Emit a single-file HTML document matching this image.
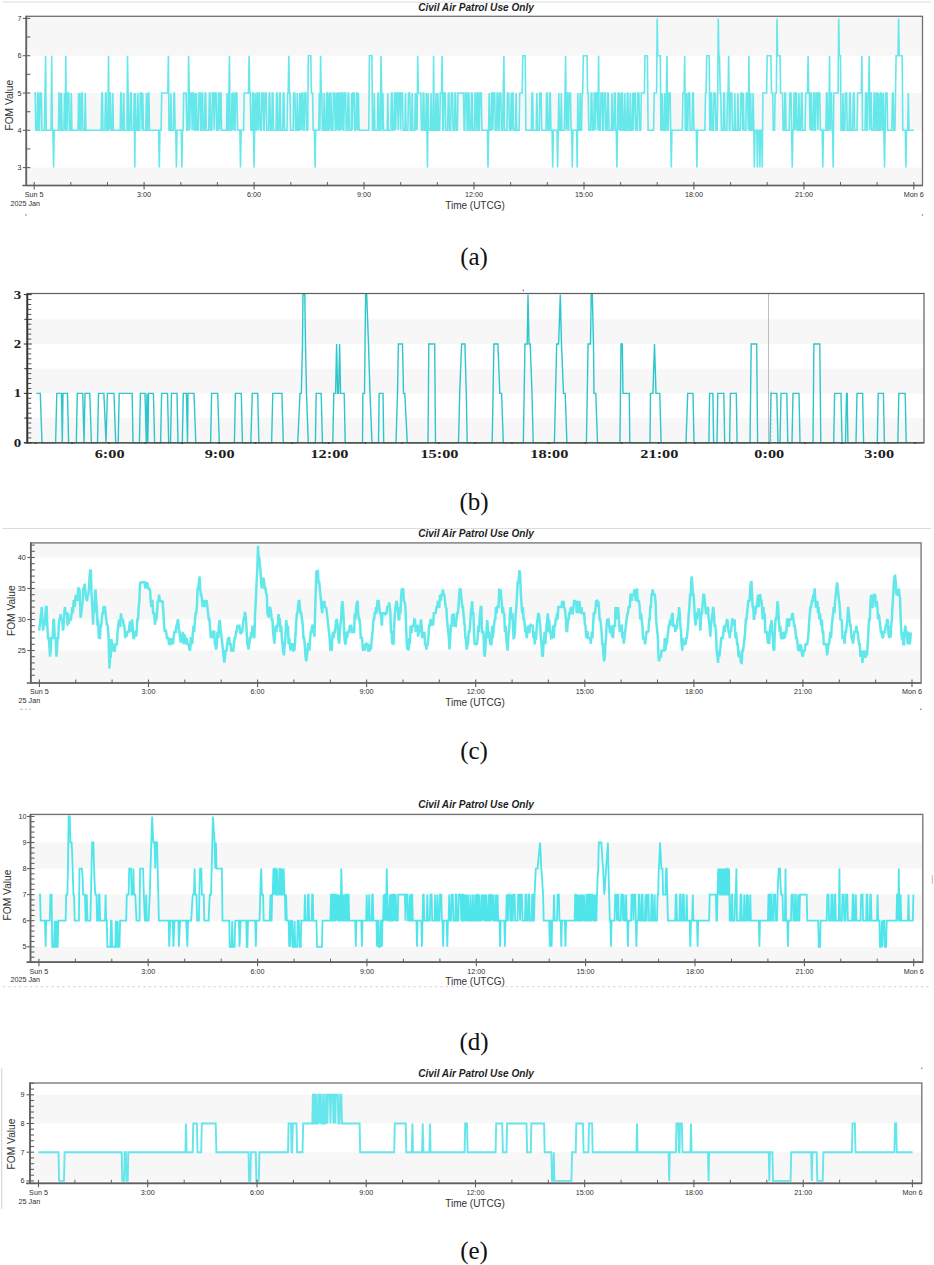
<!DOCTYPE html>
<html><head><meta charset="utf-8"><style>
html,body{margin:0;padding:0;background:#fff;}
svg{display:block;}
</style></head><body>
<svg width="934" height="1265" viewBox="0 0 934 1265">
<rect x="0" y="0" width="934" height="1265" fill="#ffffff"/>
<line x1="3" y1="2.2" x2="931" y2="2.2" stroke="#e2e2e2" stroke-width="1.2" />
<rect x="26.3" y="16.3" width="896.2" height="39.4" fill="#f7f7f8"/>
<rect x="26.3" y="93" width="896.2" height="37.3" fill="#f7f7f8"/>
<rect x="26.3" y="167.6" width="896.2" height="17.9" fill="#f7f7f8"/>
<polyline points="34,93 35.2,93 35.8,130.3 37.1,130.3 37.7,93 38.3,93 38.9,130.3 39.5,130.3 40.1,93 41.3,93 41.9,130.3 44.4,130.3 45,93 45.6,55.7 46.2,130.3 51.1,130.3 51.7,55.7 52.3,130.3 52.9,130.3 53.6,167.6 54.2,130.3 58.4,130.3 59.1,93 59.7,93 60.3,130.3 60.9,130.3 61.5,93 62.1,130.3 63.9,130.3 64.5,93 65.2,130.3 65.8,55.7 66.4,130.3 67,130.3 67.6,93 68.8,93 69.4,130.3 70.7,130.3 71.3,93 71.9,130.3 78,130.3 78.6,93 79.2,130.3 79.8,93 80.4,130.3 81,130.3 81.7,93 82.3,93 82.9,130.3 84.7,130.3 85.3,93 85.9,130.3 101.2,130.3 101.8,93 102.4,93 103,130.3 104.9,130.3 105.5,93 106.1,93 106.7,130.3 107.9,130.3 108.5,55.7 109.2,130.3 109.8,93 110.4,93 111,130.3 112.2,130.3 112.8,93 113.4,130.3 120.2,130.3 120.8,93 121.4,93 122,130.3 123.2,130.3 123.8,93 124.4,130.3 126.9,130.3 127.5,55.7 128.1,93 128.7,130.3 129.9,130.3 130.5,93 131.1,93 131.8,130.3 133.6,130.3 134.2,93 134.8,167.6 135.4,93 136,130.3 137.3,130.3 137.9,93 138.5,130.3 139.7,130.3 140.3,93 141.5,93 142.1,130.3 142.8,93 143.4,130.3 145.8,130.3 146.4,93 147,130.3 147.6,130.3 148.3,93 148.9,93 149.5,130.3 158.6,130.3 159.3,167.6 159.9,130.3 161.1,130.3 161.7,93 167.8,93 168.4,55.7 169,130.3 170.3,130.3 170.9,93 171.5,130.3 173.3,130.3 173.9,93 174.5,93 175.1,130.3 175.8,130.3 176.4,167.6 177,130.3 181.3,130.3 181.9,167.6 182.5,130.3 183.1,130.3 183.7,93 186.1,93 186.8,130.3 188,130.3 188.6,55.7 189.2,93 189.8,130.3 190.4,93 191.6,93 192.2,130.3 192.9,93 193.5,93 194.1,130.3 194.7,130.3 195.3,93 195.9,130.3 196.5,93 197.1,130.3 198.4,130.3 199,93 200.2,93 200.8,130.3 201.4,130.3 202,93 202.6,93 203.2,130.3 204.5,130.3 205.1,93 205.7,93 206.3,130.3 208.7,130.3 209.4,93 210,93 210.6,130.3 211.8,130.3 212.4,93 213.6,93 214.2,130.3 214.9,93 216.1,93 216.7,130.3 217.9,130.3 218.5,93 219.1,93 219.7,130.3 220.4,93 221,93 221.6,130.3 226.5,130.3 227.1,93 227.7,130.3 228.3,130.3 228.9,93 229.5,55.7 230.1,130.3 231.4,130.3 232,93 232.6,130.3 233.2,93 233.8,93 234.4,130.3 235,130.3 235.6,93 236.9,93 237.5,130.3 239.9,130.3 240.5,167.6 241.1,130.3 243.6,130.3 244.2,93 248.5,93 249.1,55.7 249.7,93 250.3,93 250.9,130.3 252.1,130.3 252.7,93 253.3,93 254,167.6 254.6,130.3 255.2,93 255.8,130.3 256.4,130.3 257,93 257.6,93 258.2,130.3 258.8,93 259.5,93 260.1,130.3 261.3,130.3 261.9,93 263.1,93 263.7,130.3 264.3,130.3 265,93 266.2,93 266.8,130.3 268.6,130.3 269.2,93 269.8,93 270.5,130.3 271.7,130.3 272.3,93 272.9,93 273.5,130.3 276,130.3 276.6,93 277.2,93 277.8,130.3 279,130.3 279.6,93 280.2,93 280.8,130.3 282.7,130.3 283.3,93 283.9,93 284.5,130.3 287,130.3 287.6,93 288.2,93 288.8,55.7 289.4,93 290,93 290.6,130.3 293.1,130.3 293.7,93 294.9,93 295.5,130.3 296.7,130.3 297.3,93 298,130.3 299.2,130.3 299.8,93 300.4,130.3 301,93 301.6,130.3 302.2,93 302.8,93 303.5,130.3 304.1,130.3 304.7,93 305.9,93 306.5,130.3 307.7,130.3 308.3,55.7 310.8,55.7 311.4,93 312.6,93 313.2,130.3 314.4,130.3 315.1,167.6 315.7,130.3 318.7,130.3 319.3,93 319.9,130.3 320.6,55.7 321.2,93 321.8,93 322.4,130.3 323.6,130.3 324.2,93 324.8,130.3 326.1,130.3 326.7,93 327.3,93 327.9,130.3 328.5,130.3 329.1,93 329.7,130.3 330.3,93 330.9,93 331.6,130.3 332.8,130.3 333.4,93 334.6,93 335.2,130.3 335.8,130.3 336.4,93 337.1,130.3 337.7,93 338.3,93 338.9,130.3 339.5,130.3 340.1,93 340.7,93 341.3,130.3 341.9,93 342.6,93 343.2,130.3 343.8,130.3 344.4,93 345.6,93 346.2,130.3 347.4,130.3 348.1,93 348.7,93 349.3,130.3 351.1,130.3 351.7,93 352.3,130.3 352.9,93 354.2,93 354.8,130.3 356,130.3 356.6,93 357.2,93 357.8,130.3 358.4,93 359.1,130.3 368.8,130.3 369.4,55.7 371.9,55.7 372.5,130.3 373.7,130.3 374.3,93 374.9,130.3 377.4,130.3 378,93 378.6,93 379.2,130.3 380.4,130.3 381,55.7 381.7,93 382.3,130.3 382.9,93 383.5,130.3 387.2,130.3 387.8,93 388.4,130.3 390.8,130.3 391.4,93 392,93 392.7,130.3 393.9,130.3 394.5,93 395.1,93 395.7,130.3 396.3,93 397.5,93 398.2,130.3 398.8,93 400,93 400.6,130.3 401.2,93 402.4,93 403,130.3 404.9,130.3 405.5,93 406.1,130.3 407.9,130.3 408.5,93 409.8,93 410.4,130.3 411.6,130.3 412.2,93 412.8,130.3 414.7,130.3 415.3,93 415.9,130.3 416.5,93 417.1,130.3 417.7,55.7 418.3,93 420.8,93 421.4,130.3 422.6,130.3 423.2,93 423.8,93 424.4,130.3 425.7,130.3 426.3,93 426.9,130.3 427.5,167.6 428.1,93 428.7,130.3 430.5,130.3 431.1,93 431.8,130.3 433,130.3 433.6,55.7 434.2,130.3 435.4,130.3 436,93 436.6,130.3 437.3,130.3 437.9,93 438.5,130.3 439.7,130.3 440.3,93 441.5,93 442.1,55.7 442.8,130.3 443.4,130.3 444,93 445.2,93 445.8,130.3 447.6,130.3 448.3,93 448.9,93 449.5,130.3 450.7,130.3 451.3,93 452.5,93 453.1,130.3 454.4,130.3 455,93 455.6,93 456.2,130.3 457.4,130.3 458,93 463.5,93 464.1,130.3 464.8,130.3 465.4,93 466.6,93 467.2,130.3 467.8,130.3 468.4,93 469,93 469.6,130.3 470.9,130.3 471.5,93 472.1,93 472.7,130.3 474.5,130.3 475.1,93 475.8,93 476.4,130.3 477,130.3 477.6,93 478.2,93 478.8,130.3 479.4,130.3 480,93 481.3,93 481.9,130.3 487.4,130.3 488,167.6 488.6,130.3 489.2,93 489.8,130.3 491,130.3 491.6,93 492.2,93 492.9,130.3 493.5,93 494.7,93 495.3,130.3 496.5,130.3 497.1,93 497.7,93 498.4,130.3 499,130.3 499.6,93 500.8,93 501.4,130.3 502.6,130.3 503.2,93 503.9,55.7 504.5,130.3 506.9,130.3 507.5,93 508.7,93 509.4,130.3 510.6,130.3 511.2,93 511.8,130.3 512.4,93 513,93 513.6,130.3 515.5,130.3 516.1,93 516.7,130.3 519.1,130.3 519.7,93 522.2,93 522.8,55.7 525.2,55.7 525.9,130.3 531.4,130.3 532,93 532.6,93 533.2,130.3 536.2,130.3 536.9,93 537.5,130.3 539.3,130.3 539.9,93 541.1,93 541.7,130.3 546,130.3 546.6,93 547.2,93 547.9,130.3 549.1,130.3 549.7,93 550.3,93 550.9,130.3 552.1,130.3 552.7,167.6 553.4,130.3 557,130.3 557.6,167.6 558.2,130.3 558.8,93 559.5,130.3 560.7,130.3 561.3,93 561.9,130.3 564.3,130.3 565,93 565.6,55.7 566.2,130.3 566.8,93 567.4,93 568,130.3 568.6,130.3 569.2,93 570.5,93 571.1,130.3 571.7,130.3 572.3,167.6 572.9,130.3 576.6,130.3 577.2,167.6 577.8,93 578.4,130.3 579.6,130.3 580.2,93 580.8,130.3 581.5,130.3 582.1,93 582.7,93 583.3,55.7 587,55.7 587.6,93 588.2,93 588.8,130.3 590.6,130.3 591.2,93 591.8,93 592.5,130.3 593.7,130.3 594.3,93 594.9,93 595.5,130.3 596.1,93 597.3,93 598,130.3 598.6,55.7 599.2,130.3 600.4,130.3 601,93 602.2,93 602.8,130.3 603.5,130.3 604.1,93 605.3,93 605.9,130.3 607.1,130.3 607.7,93 608.3,93 609,130.3 611.4,130.3 612,93 612.6,130.3 613.8,130.3 614.4,93 615.1,93 615.7,130.3 616.3,130.3 616.9,167.6 617.5,130.3 618.1,93 618.7,93 619.3,130.3 619.9,93 620.6,130.3 621.2,130.3 621.8,93 622.4,93 623,130.3 624.2,130.3 624.8,93 625.4,130.3 626.7,130.3 627.3,93 627.9,93 628.5,130.3 629.7,130.3 630.3,93 630.9,130.3 632.2,130.3 632.8,93 633.4,130.3 634,93 635.2,93 635.8,130.3 637.1,130.3 637.7,93 638.9,93 639.5,130.3 640.7,130.3 641.3,93 644.4,93 645,55.7 647.4,55.7 648.1,130.3 653.6,130.3 654.2,93 656.6,93 657.2,18.4 657.8,55.7 660.3,55.7 660.9,130.3 661.5,130.3 662.1,93 662.7,130.3 663.9,130.3 664.6,93 665.2,130.3 665.8,130.3 666.4,93 667,55.7 667.6,130.3 668.2,130.3 668.8,93 670.1,93 670.7,130.3 671.3,167.6 671.9,130.3 682.3,130.3 682.9,93 684.1,93 684.7,55.7 685.3,130.3 685.9,130.3 686.5,93 687.2,130.3 687.8,130.3 688.4,93 689.6,93 690.2,130.3 692,130.3 692.7,93 693.3,93 693.9,130.3 696.3,130.3 696.9,167.6 697.5,130.3 704.9,130.3 705.5,93 706.1,93 706.7,55.7 709.2,55.7 709.8,130.3 710.4,130.3 711,93 711.6,93 712.2,130.3 713.4,130.3 714,93 715.3,93 715.9,130.3 717.1,130.3 717.7,93 718.3,18.4 718.9,55.7 719.5,55.7 720.2,93 720.8,93 721.4,130.3 723.2,130.3 723.8,93 724.4,93 725,130.3 726.9,130.3 727.5,93 728.1,93 728.7,55.7 729.3,130.3 729.9,130.3 730.5,93 731.8,93 732.4,130.3 734.2,130.3 734.8,93 735.4,130.3 737.3,130.3 737.9,93 738.5,130.3 740.3,130.3 740.9,93 742.1,93 742.8,130.3 743.4,93 744,130.3 745.8,130.3 746.4,93 747.6,93 748.3,130.3 748.9,55.7 749.5,130.3 750.1,130.3 750.7,93 751.3,130.3 752.5,130.3 753.1,93 753.8,130.3 754.4,167.6 755,130.3 756.8,130.3 757.4,167.6 758,130.3 759.3,130.3 759.9,167.6 760.5,130.3 761.7,130.3 762.3,167.6 762.9,93 766.6,93 767.2,55.7 770.9,55.7 771.5,93 772.7,93 773.3,130.3 774.5,130.3 775.1,93 776.4,93 777,18.4 777.6,55.7 780,55.7 780.6,93 782.5,93 783.1,130.3 784.3,130.3 784.9,93 785.5,93 786.1,130.3 789.2,130.3 789.8,93 791,93 791.6,130.3 792.3,167.6 792.9,130.3 793.5,130.3 794.1,93 794.7,93 795.3,130.3 795.9,93 796.5,93 797.1,130.3 798.4,130.3 799,93 799.6,130.3 800.8,130.3 801.4,93 802,93 802.6,130.3 805.1,130.3 805.7,93 807.5,93 808.1,55.7 808.7,93 809.4,93 810,130.3 810.6,93 811.2,93 811.8,130.3 813,130.3 813.6,93 814.2,93 814.9,130.3 815.5,130.3 816.1,93 817.3,93 817.9,130.3 818.5,93 819.7,93 820.4,130.3 822.2,130.3 822.8,167.6 823.4,130.3 825.9,130.3 826.5,93 827.1,93 827.7,130.3 828.9,130.3 829.5,55.7 830.1,130.3 830.7,93 831.4,93 832,130.3 832.6,130.3 833.2,167.6 833.8,93 838.1,93 838.7,18.4 839.3,55.7 840.5,55.7 841.1,130.3 842.4,130.3 843,93 843.6,130.3 844.8,130.3 845.4,93 846.6,93 847.2,130.3 849.1,130.3 849.7,93 850.3,93 850.9,130.3 852.7,130.3 853.4,93 854,93 854.6,130.3 857,130.3 857.6,93 861.3,93 861.9,55.7 862.5,130.3 865,130.3 865.6,93 866.2,93 866.8,130.3 867.4,130.3 868,93 868.6,93 869.2,55.7 869.8,130.3 870.5,93 871.1,93 871.7,130.3 873.5,130.3 874.1,93 874.7,93 875.3,130.3 876,130.3 876.6,93 877.2,93 877.8,130.3 878.4,130.3 879,93 879.6,130.3 880.2,130.3 880.8,93 881.5,93 882.1,130.3 882.7,130.3 883.3,93 883.9,130.3 884.5,167.6 885.1,130.3 885.7,93 887,93 887.6,130.3 891.8,130.3 892.5,93 893.1,93 893.7,130.3 894.9,130.3 895.5,93 896.1,55.7 898,55.7 898.6,18.4 899.2,55.7 902.2,55.7 902.8,130.3 905.3,130.3 905.9,167.6 906.5,130.3 907.7,130.3 908.3,93 909,130.3 913.8,130.3" fill="none" stroke="#66e7ea" stroke-width="1.6" stroke-linejoin="miter" stroke-miterlimit="2" />
<rect x="26.3" y="16.3" width="896.2" height="169.2" fill="none" stroke="#707070" stroke-width="1.3"/>
<line x1="26.3" y1="15.8" x2="26.3" y2="186" stroke="#606060" stroke-width="1.7" />
<line x1="22.3" y1="185.5" x2="922.5" y2="185.5" stroke="#606060" stroke-width="1.7" />
<line x1="22.8" y1="167.6" x2="30.3" y2="167.6" stroke="#606060" stroke-width="1.1" />
<text x="21.5" y="170.1" font-family='"Liberation Sans", sans-serif' font-size="7.2" font-weight="normal" font-style="normal" text-anchor="end" fill="#2e2e2e" >3</text>
<line x1="22.8" y1="130.3" x2="30.3" y2="130.3" stroke="#606060" stroke-width="1.1" />
<text x="21.5" y="132.8" font-family='"Liberation Sans", sans-serif' font-size="7.2" font-weight="normal" font-style="normal" text-anchor="end" fill="#2e2e2e" >4</text>
<line x1="22.8" y1="93" x2="30.3" y2="93" stroke="#606060" stroke-width="1.1" />
<text x="21.5" y="95.5" font-family='"Liberation Sans", sans-serif' font-size="7.2" font-weight="normal" font-style="normal" text-anchor="end" fill="#2e2e2e" >5</text>
<line x1="22.8" y1="55.7" x2="30.3" y2="55.7" stroke="#606060" stroke-width="1.1" />
<text x="21.5" y="58.2" font-family='"Liberation Sans", sans-serif' font-size="7.2" font-weight="normal" font-style="normal" text-anchor="end" fill="#2e2e2e" >6</text>
<line x1="22.8" y1="18.4" x2="30.3" y2="18.4" stroke="#606060" stroke-width="1.1" />
<text x="21.5" y="20.9" font-family='"Liberation Sans", sans-serif' font-size="7.2" font-weight="normal" font-style="normal" text-anchor="end" fill="#2e2e2e" >7</text>
<line x1="26.3" y1="148.9" x2="30.3" y2="148.9" stroke="#606060" stroke-width="1.1" />
<line x1="26.3" y1="111.7" x2="30.3" y2="111.7" stroke="#606060" stroke-width="1.1" />
<line x1="26.3" y1="74.3" x2="30.3" y2="74.3" stroke="#606060" stroke-width="1.1" />
<line x1="26.3" y1="37" x2="30.3" y2="37" stroke="#606060" stroke-width="1.1" />
<line x1="34.2" y1="182" x2="34.2" y2="189.5" stroke="#606060" stroke-width="1.1" />
<text x="34.2" y="197.3" font-family='"Liberation Sans", sans-serif' font-size="7.2" font-weight="normal" font-style="normal" text-anchor="middle" fill="#2e2e2e" >Sun 5</text>
<line x1="70.8" y1="182" x2="70.8" y2="185.5" stroke="#606060" stroke-width="1.0" />
<line x1="107.5" y1="182" x2="107.5" y2="185.5" stroke="#606060" stroke-width="1.0" />
<line x1="144.1" y1="182" x2="144.1" y2="189.5" stroke="#606060" stroke-width="1.1" />
<text x="144.1" y="197.3" font-family='"Liberation Sans", sans-serif' font-size="7.2" font-weight="normal" font-style="normal" text-anchor="middle" fill="#2e2e2e" >3:00</text>
<line x1="180.8" y1="182" x2="180.8" y2="185.5" stroke="#606060" stroke-width="1.0" />
<line x1="217.4" y1="182" x2="217.4" y2="185.5" stroke="#606060" stroke-width="1.0" />
<line x1="254.1" y1="182" x2="254.1" y2="189.5" stroke="#606060" stroke-width="1.1" />
<text x="254.1" y="197.3" font-family='"Liberation Sans", sans-serif' font-size="7.2" font-weight="normal" font-style="normal" text-anchor="middle" fill="#2e2e2e" >6:00</text>
<line x1="290.8" y1="182" x2="290.8" y2="185.5" stroke="#606060" stroke-width="1.0" />
<line x1="327.4" y1="182" x2="327.4" y2="185.5" stroke="#606060" stroke-width="1.0" />
<line x1="364" y1="182" x2="364" y2="189.5" stroke="#606060" stroke-width="1.1" />
<text x="364" y="197.3" font-family='"Liberation Sans", sans-serif' font-size="7.2" font-weight="normal" font-style="normal" text-anchor="middle" fill="#2e2e2e" >9:00</text>
<line x1="400.7" y1="182" x2="400.7" y2="185.5" stroke="#606060" stroke-width="1.0" />
<line x1="437.3" y1="182" x2="437.3" y2="185.5" stroke="#606060" stroke-width="1.0" />
<line x1="474" y1="182" x2="474" y2="189.5" stroke="#606060" stroke-width="1.1" />
<text x="474" y="197.3" font-family='"Liberation Sans", sans-serif' font-size="7.2" font-weight="normal" font-style="normal" text-anchor="middle" fill="#2e2e2e" >12:00</text>
<line x1="510.6" y1="182" x2="510.6" y2="185.5" stroke="#606060" stroke-width="1.0" />
<line x1="547.3" y1="182" x2="547.3" y2="185.5" stroke="#606060" stroke-width="1.0" />
<line x1="584" y1="182" x2="584" y2="189.5" stroke="#606060" stroke-width="1.1" />
<text x="584" y="197.3" font-family='"Liberation Sans", sans-serif' font-size="7.2" font-weight="normal" font-style="normal" text-anchor="middle" fill="#2e2e2e" >15:00</text>
<line x1="620.6" y1="182" x2="620.6" y2="185.5" stroke="#606060" stroke-width="1.0" />
<line x1="657.2" y1="182" x2="657.2" y2="185.5" stroke="#606060" stroke-width="1.0" />
<line x1="693.9" y1="182" x2="693.9" y2="189.5" stroke="#606060" stroke-width="1.1" />
<text x="693.9" y="197.3" font-family='"Liberation Sans", sans-serif' font-size="7.2" font-weight="normal" font-style="normal" text-anchor="middle" fill="#2e2e2e" >18:00</text>
<line x1="730.6" y1="182" x2="730.6" y2="185.5" stroke="#606060" stroke-width="1.0" />
<line x1="767.2" y1="182" x2="767.2" y2="185.5" stroke="#606060" stroke-width="1.0" />
<line x1="803.9" y1="182" x2="803.9" y2="189.5" stroke="#606060" stroke-width="1.1" />
<text x="803.9" y="197.3" font-family='"Liberation Sans", sans-serif' font-size="7.2" font-weight="normal" font-style="normal" text-anchor="middle" fill="#2e2e2e" >21:00</text>
<line x1="840.5" y1="182" x2="840.5" y2="185.5" stroke="#606060" stroke-width="1.0" />
<line x1="877.1" y1="182" x2="877.1" y2="185.5" stroke="#606060" stroke-width="1.0" />
<line x1="913.8" y1="182" x2="913.8" y2="189.5" stroke="#606060" stroke-width="1.1" />
<text x="913.8" y="197.3" font-family='"Liberation Sans", sans-serif' font-size="7.2" font-weight="normal" font-style="normal" text-anchor="middle" fill="#2e2e2e" >Mon 6</text>
<text x="25.3" y="206" font-family='"Liberation Sans", sans-serif' font-size="7.2" font-weight="normal" font-style="normal" text-anchor="middle" fill="#2e2e2e" >2025 Jan</text>
<text x="475" y="209.3" font-family='"Liberation Sans", sans-serif' font-size="10" font-weight="normal" font-style="normal" text-anchor="middle" fill="#333" >Time (UTCG)</text>
<text x="476" y="10.9" font-family='"Liberation Sans", sans-serif' font-size="10.1" font-weight="bold" font-style="italic" text-anchor="middle" fill="#1e1e1e" >Civil Air Patrol Use Only</text>
<text transform="translate(13.1,105.2) rotate(-90)" font-family='"Liberation Sans", sans-serif' font-size="10.2" text-anchor="middle" fill="#333">FOM Value</text>
<rect x="27.3" y="319.3" width="896.7" height="24.7" fill="#f7f7f8"/>
<rect x="27.3" y="368.7" width="896.7" height="24.7" fill="#f7f7f8"/>
<rect x="27.3" y="418.1" width="896.7" height="24.7" fill="#f7f7f8"/>
<line x1="768.5" y1="293.5" x2="768.5" y2="442.8" stroke="#b5b5b5" stroke-width="0.9" />
<line x1="770.3" y1="392" x2="771.8" y2="392" stroke="#bcbcbc" stroke-width="1.0" />
<line x1="770.3" y1="396" x2="771.8" y2="396" stroke="#bcbcbc" stroke-width="1.0" />
<line x1="770.3" y1="400" x2="771.8" y2="400" stroke="#bcbcbc" stroke-width="1.0" />
<line x1="770.3" y1="404" x2="771.8" y2="404" stroke="#bcbcbc" stroke-width="1.0" />
<line x1="770.3" y1="408" x2="771.8" y2="408" stroke="#bcbcbc" stroke-width="1.0" />
<line x1="770.3" y1="412" x2="771.8" y2="412" stroke="#bcbcbc" stroke-width="1.0" />
<line x1="770.3" y1="416" x2="771.8" y2="416" stroke="#bcbcbc" stroke-width="1.0" />
<line x1="770.3" y1="420" x2="771.8" y2="420" stroke="#bcbcbc" stroke-width="1.0" />
<line x1="770.3" y1="424" x2="771.8" y2="424" stroke="#bcbcbc" stroke-width="1.0" />
<line x1="770.3" y1="428" x2="771.8" y2="428" stroke="#bcbcbc" stroke-width="1.0" />
<line x1="770.3" y1="432" x2="771.8" y2="432" stroke="#bcbcbc" stroke-width="1.0" />
<line x1="770.3" y1="436" x2="771.8" y2="436" stroke="#bcbcbc" stroke-width="1.0" />
<line x1="770.3" y1="440" x2="771.8" y2="440" stroke="#bcbcbc" stroke-width="1.0" />
<polyline points="36.3,393.4 40.3,393.4 42,442.8 55.6,442.8 56.8,393.4 61.5,393.4 62.3,442.8 63,393.4 67.5,393.4 68.6,442.8 76.3,442.8 77.3,393.4 82.7,393.4 84,442.8 85,393.4 89.8,393.4 91.4,442.8 97.5,442.8 98.5,393.4 103.9,393.4 106,442.8 107.4,393.4 114,393.4 115.7,442.8 118.2,442.8 119.2,393.4 132.2,393.4 133,442.8 139.4,442.8 140.4,393.4 145,393.4 146.3,442.8 147,393.4 147.8,442.8 148.6,393.4 153.4,393.4 154.6,442.8 160.6,442.8 161.6,393.4 167.5,393.4 168.7,442.8 170.5,442.8 171.5,393.4 177,393.4 178,442.8 182.3,442.8 183.3,393.4 186.4,393.4 187.5,442.8 188,393.4 194,393.4 195.8,442.8 210.6,442.8 211.6,393.4 217.7,393.4 219.3,442.8 234.4,442.8 235.4,393.4 241.3,393.4 242.4,442.8 250.8,442.8 252.3,393.4 257.7,393.4 258.9,442.8 271.6,442.8 272.8,393.4 281.9,393.4 283.3,442.8 297.7,442.8 300,393.4 301.3,393.4 302.5,344 303,294.6 304.8,294.6 305.5,344 306.5,393.4 308.3,442.8 315.4,442.8 316.2,393.4 321.2,393.4 322.4,442.8 332.8,442.8 333.8,393.4 335.6,393.4 336.6,344 337.6,393.4 338.6,393.4 339.6,344 340.6,393.4 344.2,393.4 345.2,442.8 362.5,442.8 362.9,393.4 364.5,393.4 365.6,294.6 366.7,294.6 368.5,344 370,393.4 372,442.8 378.5,442.8 379.2,393.4 383,393.4 383.7,442.8 396,442.8 397.5,393.4 398.4,344 402.5,344 403.5,393.4 404.8,393.4 407.3,442.8 428,442.8 428.8,344 434.7,344 435.5,442.8 458.5,442.8 459.7,393.4 461.6,344 464.9,344 466.3,393.4 467.2,442.8 492.2,442.8 493.9,344 497.9,344 499.8,393.4 501.6,393.4 503.3,442.8 523.3,442.8 525,344 527.2,344 528,294.6 529,344 530.2,344 532,393.4 533.2,442.8 554.4,442.8 556.7,344 558.6,344 560.3,294.6 561.5,344 563.5,393.4 565.2,393.4 566.9,442.8 586.4,442.8 588.1,344 590.5,344 591.2,294.6 592.3,294.6 593.5,344 594,393.4 595.8,393.4 597.5,442.8 619.9,442.8 621,344 622.3,344 623,393.4 629.3,393.4 629.8,442.8 650,442.8 650.5,393.4 652.9,393.4 654.5,344 656,393.4 659.8,393.4 661.1,442.8 686,442.8 687.7,393.4 693,393.4 694,442.8 708.9,442.8 709.6,393.4 712.9,393.4 713.6,442.8 717,442.8 717.8,393.4 723.8,393.4 724.7,442.8 729.6,442.8 730.4,393.4 736.3,393.4 737.1,442.8 750,442.8 751.2,344 756.7,344 757.6,442.8 770,442.8 771,393.4 776.8,393.4 778,442.8 780,442.8 781,393.4 786.8,393.4 787.8,442.8 792,442.8 793,393.4 799,393.4 800,442.8 813,442.8 813.9,344 819.8,344 820.8,442.8 833.7,442.8 834.6,393.4 841,393.4 842,442.8 845.5,442.8 846.5,393.4 847.2,393.4 847.9,442.8 856,442.8 857,393.4 862.6,393.4 863.6,442.8 877.3,442.8 878.2,393.4 883.4,393.4 884.4,442.8 897.9,442.8 898.8,393.4 905.2,393.4 906.2,442.8" fill="none" stroke="#2ec6ca" stroke-width="1.4" stroke-linejoin="miter" stroke-miterlimit="2" />
<rect x="27.3" y="293.5" width="896.7" height="149.3" fill="none" stroke="#5e5e5e" stroke-width="1.2"/>
<line x1="27.3" y1="293.5" x2="27.3" y2="443.4" stroke="#333" stroke-width="1.9" />
<line x1="24.3" y1="442.8" x2="924" y2="442.8" stroke="#555" stroke-width="1.4" />
<line x1="23.8" y1="442.8" x2="31.8" y2="442.8" stroke="#333" stroke-width="1.0" />
<line x1="27.3" y1="437.9" x2="31.3" y2="437.9" stroke="#444" stroke-width="0.9" />
<line x1="27.3" y1="432.9" x2="31.3" y2="432.9" stroke="#444" stroke-width="0.9" />
<line x1="27.3" y1="428" x2="31.3" y2="428" stroke="#444" stroke-width="0.9" />
<line x1="27.3" y1="423" x2="31.3" y2="423" stroke="#444" stroke-width="0.9" />
<line x1="24.3" y1="418.1" x2="31.8" y2="418.1" stroke="#333" stroke-width="1.0" />
<line x1="27.3" y1="413.2" x2="31.3" y2="413.2" stroke="#444" stroke-width="0.9" />
<line x1="27.3" y1="408.2" x2="31.3" y2="408.2" stroke="#444" stroke-width="0.9" />
<line x1="27.3" y1="403.3" x2="31.3" y2="403.3" stroke="#444" stroke-width="0.9" />
<line x1="27.3" y1="398.3" x2="31.3" y2="398.3" stroke="#444" stroke-width="0.9" />
<line x1="23.8" y1="393.4" x2="31.8" y2="393.4" stroke="#333" stroke-width="1.0" />
<line x1="27.3" y1="388.5" x2="31.3" y2="388.5" stroke="#444" stroke-width="0.9" />
<line x1="27.3" y1="383.5" x2="31.3" y2="383.5" stroke="#444" stroke-width="0.9" />
<line x1="27.3" y1="378.6" x2="31.3" y2="378.6" stroke="#444" stroke-width="0.9" />
<line x1="27.3" y1="373.6" x2="31.3" y2="373.6" stroke="#444" stroke-width="0.9" />
<line x1="24.3" y1="368.7" x2="31.8" y2="368.7" stroke="#333" stroke-width="1.0" />
<line x1="27.3" y1="363.8" x2="31.3" y2="363.8" stroke="#444" stroke-width="0.9" />
<line x1="27.3" y1="358.8" x2="31.3" y2="358.8" stroke="#444" stroke-width="0.9" />
<line x1="27.3" y1="353.9" x2="31.3" y2="353.9" stroke="#444" stroke-width="0.9" />
<line x1="27.3" y1="348.9" x2="31.3" y2="348.9" stroke="#444" stroke-width="0.9" />
<line x1="23.8" y1="344" x2="31.8" y2="344" stroke="#333" stroke-width="1.0" />
<line x1="27.3" y1="339.1" x2="31.3" y2="339.1" stroke="#444" stroke-width="0.9" />
<line x1="27.3" y1="334.1" x2="31.3" y2="334.1" stroke="#444" stroke-width="0.9" />
<line x1="27.3" y1="329.2" x2="31.3" y2="329.2" stroke="#444" stroke-width="0.9" />
<line x1="27.3" y1="324.2" x2="31.3" y2="324.2" stroke="#444" stroke-width="0.9" />
<line x1="24.3" y1="319.3" x2="31.8" y2="319.3" stroke="#333" stroke-width="1.0" />
<line x1="27.3" y1="314.4" x2="31.3" y2="314.4" stroke="#444" stroke-width="0.9" />
<line x1="27.3" y1="309.4" x2="31.3" y2="309.4" stroke="#444" stroke-width="0.9" />
<line x1="27.3" y1="304.5" x2="31.3" y2="304.5" stroke="#444" stroke-width="0.9" />
<line x1="27.3" y1="299.5" x2="31.3" y2="299.5" stroke="#444" stroke-width="0.9" />
<line x1="23.8" y1="294.6" x2="31.8" y2="294.6" stroke="#333" stroke-width="1.0" />
<text transform="translate(21.2,446.8) scale(1.3,1)" font-family='"Liberation Serif", serif' font-size="11.5" font-weight="bold" text-anchor="end" fill="#1e1e1e">0</text>
<text transform="translate(21.2,397.4) scale(1.3,1)" font-family='"Liberation Serif", serif' font-size="11.5" font-weight="bold" text-anchor="end" fill="#1e1e1e">1</text>
<text transform="translate(21.2,348) scale(1.3,1)" font-family='"Liberation Serif", serif' font-size="11.5" font-weight="bold" text-anchor="end" fill="#1e1e1e">2</text>
<text transform="translate(21.2,298.6) scale(1.3,1)" font-family='"Liberation Serif", serif' font-size="11.5" font-weight="bold" text-anchor="end" fill="#1e1e1e">3</text>
<circle cx="35.5" cy="443.2" r="0.9" fill="#444"/>
<circle cx="72.2" cy="443.2" r="0.9" fill="#444"/>
<circle cx="108.8" cy="443.2" r="0.9" fill="#444"/>
<circle cx="145.5" cy="443.2" r="0.9" fill="#444"/>
<circle cx="182.1" cy="443.2" r="0.9" fill="#444"/>
<circle cx="218.8" cy="443.2" r="0.9" fill="#444"/>
<circle cx="255.4" cy="443.2" r="0.9" fill="#444"/>
<circle cx="292.1" cy="443.2" r="0.9" fill="#444"/>
<circle cx="328.7" cy="443.2" r="0.9" fill="#444"/>
<circle cx="365.4" cy="443.2" r="0.9" fill="#444"/>
<circle cx="402" cy="443.2" r="0.9" fill="#444"/>
<circle cx="438.7" cy="443.2" r="0.9" fill="#444"/>
<circle cx="475.3" cy="443.2" r="0.9" fill="#444"/>
<circle cx="512" cy="443.2" r="0.9" fill="#444"/>
<circle cx="548.6" cy="443.2" r="0.9" fill="#444"/>
<circle cx="585.3" cy="443.2" r="0.9" fill="#444"/>
<circle cx="621.9" cy="443.2" r="0.9" fill="#444"/>
<circle cx="658.6" cy="443.2" r="0.9" fill="#444"/>
<circle cx="695.2" cy="443.2" r="0.9" fill="#444"/>
<circle cx="731.9" cy="443.2" r="0.9" fill="#444"/>
<circle cx="768.5" cy="443.2" r="0.9" fill="#444"/>
<circle cx="805.2" cy="443.2" r="0.9" fill="#444"/>
<circle cx="841.8" cy="443.2" r="0.9" fill="#444"/>
<circle cx="878.5" cy="443.2" r="0.9" fill="#444"/>
<circle cx="915.1" cy="443.2" r="0.9" fill="#444"/>
<text transform="translate(109.6,457.6) scale(1.36,1)" font-family='"Liberation Serif", serif' font-size="12" font-weight="bold" text-anchor="middle" fill="#1e1e1e">6:00</text>
<text transform="translate(219.6,457.6) scale(1.36,1)" font-family='"Liberation Serif", serif' font-size="12" font-weight="bold" text-anchor="middle" fill="#1e1e1e">9:00</text>
<text transform="translate(329.5,457.6) scale(1.36,1)" font-family='"Liberation Serif", serif' font-size="12" font-weight="bold" text-anchor="middle" fill="#1e1e1e">12:00</text>
<text transform="translate(439.5,457.6) scale(1.36,1)" font-family='"Liberation Serif", serif' font-size="12" font-weight="bold" text-anchor="middle" fill="#1e1e1e">15:00</text>
<text transform="translate(549.4,457.6) scale(1.36,1)" font-family='"Liberation Serif", serif' font-size="12" font-weight="bold" text-anchor="middle" fill="#1e1e1e">18:00</text>
<text transform="translate(659.4,457.6) scale(1.36,1)" font-family='"Liberation Serif", serif' font-size="12" font-weight="bold" text-anchor="middle" fill="#1e1e1e">21:00</text>
<text transform="translate(769.3,457.6) scale(1.36,1)" font-family='"Liberation Serif", serif' font-size="12" font-weight="bold" text-anchor="middle" fill="#1e1e1e">0:00</text>
<text transform="translate(879.2,457.6) scale(1.36,1)" font-family='"Liberation Serif", serif' font-size="12" font-weight="bold" text-anchor="middle" fill="#1e1e1e">3:00</text>
<text x="474" y="264.6" font-family='"Liberation Serif", serif' font-size="25" font-weight="normal" font-style="normal" text-anchor="middle" fill="#111" >(a)</text>
<text x="474" y="509.6" font-family='"Liberation Serif", serif' font-size="25" font-weight="normal" font-style="normal" text-anchor="middle" fill="#111" >(b)</text>
<text x="474" y="758.6" font-family='"Liberation Serif", serif' font-size="25" font-weight="normal" font-style="normal" text-anchor="middle" fill="#111" >(c)</text>
<text x="474" y="1049.6" font-family='"Liberation Serif", serif' font-size="25" font-weight="normal" font-style="normal" text-anchor="middle" fill="#111" >(d)</text>
<text x="474" y="1259" font-family='"Liberation Serif", serif' font-size="25" font-weight="normal" font-style="normal" text-anchor="middle" fill="#111" >(e)</text>
<line x1="2.6" y1="528.5" x2="931" y2="528.5" stroke="#dcdcdc" stroke-width="1.2" />
<rect x="30.8" y="542.9" width="890.3" height="14.6" fill="#f7f7f8"/>
<rect x="30.8" y="588.5" width="890.3" height="31" fill="#f7f7f8"/>
<rect x="30.8" y="650.5" width="890.3" height="32.5" fill="#f7f7f8"/>
<polyline points="39,630.7 39.7,625.7 40.4,619.5 41.1,613.3 41.8,607 42.4,619.5 43,630.7 43.6,625.7 44.2,619.5 44.8,625.7 45.4,613.3 46,607 46.7,607.1 47.3,625.7 48,638.1 48.7,638.1 49.3,644.3 50,656.6 50.7,650.5 51.3,638.1 52,638.1 52.7,638.1 53.3,619.5 54,620 54.8,638.1 55.6,638.1 56.4,656.6 57,650.5 57.6,638.1 58.2,638.1 58.8,625.7 59.4,619.5 60,619.5 60.6,614.2 61.4,619.5 62.2,619.5 63,630.7 63.6,625.7 64.3,613.3 64.9,607 65.6,613.3 66.2,613.3 66.9,613.3 67.6,625.7 68.2,613.3 68.9,623.6 69.6,619.5 70.2,619.5 70.9,619.5 71.6,613.3 72.3,607.1 72.9,613.3 73.6,601.2 74.3,600.9 74.9,607.1 75.6,594.7 76.2,600.9 76.9,594.7 77.5,600.9 78.2,588.5 78.8,588.5 79.5,589.5 80.6,617.7 81.3,613.3 82,607.1 82.7,600.9 83.3,588.5 84,588.5 84.7,583.6 85.6,594.7 86.5,600 87.1,600.9 87.7,594.7 88.3,594.7 89,588.5 89.6,576.1 90.2,569.9 90.8,570.6 91.6,594.7 92.3,607.1 93.1,624.8 93.7,607.1 94.3,613.3 94.9,594.7 95.5,589.5 96.2,600.9 96.8,607.1 97.5,625.7 98.1,619.5 98.8,637.8 99.4,638.1 100,638.1 100.6,625.7 101.2,625.7 101.8,619.5 102.4,613.3 103,613.3 103.6,607.1 104.2,607 104.9,607.1 105.6,613.3 106.3,619.5 107,625.7 107.7,624.8 108.6,638.1 109.4,668.4 110,656.7 110.7,656.7 111.3,639 112,644.3 112.7,644.3 113.4,650.5 114.1,650.5 114.8,650.7 115.5,644.3 116.2,644.3 116.9,644.3 117.6,631.9 118.3,626 119,619.5 119.6,625.7 120.3,625.7 121,613.3 121.7,619.5 122.3,619.5 123,620 123.7,625.7 124.4,625.7 125.2,638.1 125.9,631.9 126.6,636.6 127.3,631.9 128,631.9 128.7,631.9 129.4,625.7 130.1,621.3 130.8,631.9 131.4,625.7 132.1,619.5 132.7,625.7 133.4,638.1 134,638.1 134.7,631.9 135.3,631.9 136,636.6 136.7,631.9 137.3,619.5 138,619.5 138.7,607.1 139.4,600.9 140,582.3 140.7,583.6 141.4,582.3 142,582.3 142.7,582.3 143.3,582.3 144,582.3 144.6,582.3 145.3,588.5 145.9,582.3 146.6,583.6 147.3,582.3 148,588.5 148.7,588.5 149.4,588.5 150.1,590.6 150.7,600.9 151.3,607.1 151.9,600.9 152.5,600.9 153.1,613.3 153.7,613.3 154.3,613.3 154.9,624.8 155.6,619.5 156.3,619.5 157,613.3 157.7,600.9 158.4,602.4 159.1,594.7 159.8,600.9 160.6,600.9 161.3,600.9 162,602.4 162.7,600.9 163.4,613.3 164.1,625.7 164.8,631.9 165.5,629.5 166.2,631.9 166.9,638.1 167.6,638.1 168.3,638.1 169,643.6 169.7,644.3 170.3,644.3 171,638.1 171.7,644.3 172.4,638.1 173,644.3 173.7,636.6 174.4,631.9 175,631.9 175.7,631.9 176.4,625.7 177.1,625.7 177.7,619.5 178.4,621.3 179,631.9 179.6,631.9 180.2,638.1 180.8,642.5 181.5,638.1 182.2,638.1 182.9,631.9 183.6,644.3 184.3,634.2 185,638.1 185.6,638.1 186.3,644.3 186.9,638.1 187.6,644.3 188.2,644.3 188.9,644.3 189.5,650.5 190.2,649.5 190.9,638.1 191.5,638.1 192.2,644.3 192.9,631.9 193.6,625.7 194.2,631.9 194.9,620 195.6,613.3 196.2,613.3 196.9,607.1 197.6,588.5 198.3,588.5 198.9,582.3 199.6,576.5 200.2,588.5 200.8,594.7 201.4,594.7 202,600 202.7,607.1 203.3,600.9 204,600.9 204.7,607.1 205.4,600.9 206,600.9 206.7,601.2 207.4,607.1 208.1,613.3 208.8,619.5 209.5,619.5 210.2,630.7 210.9,638.1 211.6,631.9 212.3,631.9 213,638.1 213.7,630.7 214.3,631.9 214.9,644.3 215.5,644.3 216.1,649.5 216.8,644.3 217.5,631.9 218.2,638.1 218.9,625.7 219.6,620 220.3,625.7 220.9,631.9 221.6,638.1 222.3,644.3 223,650.5 223.6,656.7 224.3,662.5 225,656.7 225.7,650.5 226.5,650.5 227.2,644.3 227.9,639 228.6,638.1 229.2,638.1 229.9,644.3 230.6,644.3 231.3,650.5 231.9,650.5 232.6,650.7 233.3,650.5 233.9,644.3 234.6,638.1 235.3,638.1 236,631.9 236.6,631.9 237.3,626 238,625.7 238.7,625.7 239.4,625.7 240.1,631.9 240.8,634.2 241.5,631.9 242.1,631.9 242.8,625.7 243.5,619.5 244.1,619.5 244.8,613 245.4,613.3 246,619.5 246.7,631.9 247.3,644.3 247.9,644.3 248.5,649.5 249.2,644.3 249.9,638.1 250.6,638.1 251.3,631.9 252,633 252.6,625.7 253.2,631.9 253.8,638.1 254.4,636.6 255.1,613.3 255.8,600.9 256.6,582.3 257.3,569.9 258,545.9 258.6,557.5 259.2,557.5 259.8,563.7 260.4,569.9 261,580 261.8,588.5 262.6,582.3 263.4,577.7 264.1,582.3 264.8,588.5 265.5,588.5 266.2,594.2 266.8,594.7 267.4,613.3 268,613.3 268.6,617.7 269.5,607.1 270.4,608.3 271.1,613.3 271.7,619.5 272.4,619.5 273.1,631.9 273.7,638.1 274.4,643.6 275.1,631.9 275.8,625.7 276.4,631.9 277.1,625.7 277.8,625.7 278.5,614.2 279.2,619.5 279.9,619.5 280.5,631.9 281.2,625.7 281.9,638.1 282.5,644.3 283.2,650.5 283.9,655.4 284.7,644.3 285.4,638.1 286.2,620 286.8,625.7 287.4,631.9 288,625.7 288.6,644.3 289.2,638.1 289.8,643.6 290.5,650.5 291.1,644.3 291.8,644.3 292.5,644.3 293.2,650.5 293.8,650.5 294.5,649.5 295.3,638.1 296,625.7 296.8,614.2 297.4,613.3 298,607.1 298.7,600.9 299.3,600.9 299.9,607 300.6,613.3 301.3,613.3 302,619.5 302.7,624.8 303.4,638.1 304.1,638.1 304.8,644.3 305.5,656.7 306.2,661.3 306.9,656.7 307.5,650.5 308.2,644.3 308.8,644.3 309.5,650.5 310.1,638.1 310.8,631.9 311.4,631.9 312.1,626 312.9,625.7 313.7,631.9 314.5,636.6 315.1,613.3 315.8,588.5 316.4,570.6 317.1,582.3 317.8,569.9 318.5,582.3 319.2,582.4 319.8,588.5 320.4,594.7 321,600.9 321.6,608.3 322.3,613.3 322.9,600.9 323.6,607.1 324.3,600.9 325,607.1 325.6,607.1 326.3,608.3 327,613.3 327.6,619.5 328.3,625.7 329,631.9 329.7,638.1 330.3,650.5 331,649.5 331.7,650.5 332.3,638.1 333,631.9 333.6,638.1 334.3,631.9 334.9,631.9 335.6,625.7 336.2,619.5 336.9,620 337.7,625.7 338.4,638.1 339.2,643.6 339.8,631.9 340.4,625.7 341.1,619.5 341.7,607.1 342.3,601.2 343,607.1 343.7,619.5 344.4,638.1 345.1,643.6 345.8,644.3 346.4,631.9 347.1,638.1 347.8,631.9 348.5,631.9 349.1,631.9 349.8,626 350.5,625.7 351.2,625.7 352,631.9 352.7,631.9 353.4,631.9 354.1,631.9 354.8,613.3 355.5,619.5 356.2,607.1 356.9,602.4 357.6,600.9 358.2,613.3 358.9,619.5 359.5,619.5 360.2,625.7 360.8,638.1 361.5,638.1 362.1,638.1 362.8,649.5 363.5,650.5 364.2,644.3 364.9,650.5 365.6,644.3 366.3,643.6 367,644.3 367.6,644.3 368.3,650.5 369,650.5 369.7,650.5 370.3,644.3 371,649.5 371.8,638.1 372.6,631.9 373.4,620 374.1,619.5 374.7,613.3 375.4,613.3 376.1,607.1 376.7,613.3 377.4,601.2 378,600.9 378.7,600.9 379.3,607.1 379.9,613.3 380.6,613.3 381.2,617.7 381.9,625.7 382.5,613.3 383.2,613.3 383.9,613.3 384.5,613.3 385.2,614.2 385.9,613.3 386.5,613.3 387.2,607.1 387.9,607.1 388.5,607.1 389.2,602.4 389.8,607.1 390.4,613.3 391,631.9 391.7,631.9 392.3,644.3 392.9,643.6 393.6,644.3 394.2,625.7 394.9,613.3 395.5,607.1 396.2,602.4 396.8,600.9 397.4,607.1 398.1,613.3 398.7,619.5 399.3,620 399.9,607.1 400.5,613.3 401.2,594.7 401.8,588.5 402.4,589.5 403.2,588.5 403.9,600.9 404.7,602.4 405.4,607.1 406.1,625.7 406.8,644.3 407.5,649.5 408.1,644.3 408.7,650.5 409.3,638.1 409.9,644.3 410.5,625.7 411.1,631.9 411.7,631.9 412.3,626 413,625.7 413.7,625.7 414.4,619.5 415.1,620 415.7,631.9 416.3,625.7 416.9,625.7 417.5,625.7 418.1,636.6 418.8,631.9 419.5,631.9 420.3,625.7 421,619.5 421.7,626 422.4,638.1 423,631.9 423.7,638.1 424.4,631.9 425.1,644.3 425.7,644.3 426.4,649.5 427.1,644.3 427.7,644.3 428.4,638.1 429.1,625.7 429.8,625.7 430.4,619.5 431.1,620 431.8,625.7 432.4,619.5 433.1,625.7 433.8,613.3 434.5,613.3 435.1,613.3 435.8,613 436.5,607.1 437.2,607.1 437.9,600.9 438.6,607.1 439.3,607 440,594.7 440.7,600.9 441.5,594.7 442.2,594.7 442.9,589.5 443.6,594.7 444.3,594.7 445,600.9 445.7,607.1 446.4,608.3 447,619.5 447.6,625.7 448.3,631.9 448.9,638.1 449.5,649.5 450.2,638.1 450.9,625.7 451.6,625.7 452.3,614.2 453,619.5 453.7,613.3 454.4,625.7 455.1,625.7 455.8,626 456.5,619.5 457.1,613.3 457.8,613.3 458.5,607.1 459.2,594.7 459.8,588.5 460.5,589.5 461.1,594.7 461.7,600.9 462.3,607.1 462.9,607.1 463.5,614.2 464.1,619.5 464.7,625.7 465.4,638.1 466,638.1 466.6,649.5 467.3,644.3 468,644.3 468.7,631.9 469.4,631.9 470.1,625.7 470.8,613.3 471.5,607.1 472.2,601.2 472.8,613.3 473.4,613.3 474,631.9 474.6,643.6 475.4,644.3 476.2,644.3 477,643.6 477.6,638.1 478.2,625.7 478.9,631.9 479.5,619.5 480.1,613.3 480.7,607 481.4,607.1 482,631.9 482.7,631.9 483.4,631.9 484,650.5 484.7,656.6 485.3,650.5 485.9,638.1 486.5,631.9 487.1,620 487.7,625.7 488.3,638.1 489,631.9 489.6,638.1 490.2,643.6 490.8,644.3 491.5,644.3 492.1,625.7 492.8,638.1 493.4,631.9 494,625.7 494.7,619.5 495.3,620 495.9,607.1 496.6,613.3 497.2,607.1 497.9,607.1 498.6,607.1 499.2,588.5 499.9,600.9 500.5,589.5 501.1,594.7 501.7,600.9 502.4,613.3 503,607.1 503.6,614.2 504.3,613.3 504.9,631.9 505.6,625.7 506.3,638.1 506.9,644.3 507.6,650.7 508.2,638.1 508.8,631.9 509.4,625.7 510,613.3 510.6,607 511.2,613.3 511.8,619.5 512.4,613.3 513,625.7 513.6,638.1 514.2,637.8 514.9,631.9 515.6,613.3 516.3,607.1 517,594.7 517.7,582.4 518.5,582.3 519.4,570.2 520.2,576.1 520.9,594.7 521.7,607 522.3,613.3 522.9,607.1 523.5,619.5 524.2,619.5 524.8,625.7 525.4,631.9 526,630.7 526.7,638.1 527.3,631.9 528,625.7 528.7,631.9 529.4,631.9 530,625.7 530.7,624.8 531.4,625.7 532,625.7 532.7,625.7 533.4,638.1 534.1,631.9 534.7,644.3 535.4,637.8 536.1,638.1 536.8,625.7 537.5,619.5 538.2,613.3 538.9,614.2 539.6,619.5 540.2,625.7 540.9,638.1 541.6,644.3 542.2,656.7 542.9,655.4 543.5,644.3 544.1,638.1 544.7,631.9 545.4,644.3 546,631.9 546.6,625.7 547.2,620 547.9,613.3 548.5,631.9 549.2,619.5 549.9,631.9 550.6,631.9 551.2,638.1 551.9,637.8 552.5,631.9 553.2,625.7 553.8,638.1 554.4,625.7 555.1,625.7 555.7,619.5 556.4,619.5 557,613.3 557.6,619.5 558.3,607.1 558.9,607 559.6,607.1 560.2,607.1 560.9,607.1 561.5,607.1 562.2,600.9 562.8,607.1 563.5,600.9 564.1,607.1 564.8,608.3 565.4,613.3 566,619.5 566.6,631.9 567.2,630.7 567.9,619.5 568.6,619.5 569.3,613.3 570,613.3 570.7,608.3 571.4,607.1 572,613.3 572.7,613.3 573.4,607.1 574.1,600.9 574.7,600.9 575.4,602.4 576.1,600.9 576.7,613.3 577.4,600.9 578.1,613.3 578.8,607.1 579.4,600.9 580.1,608.3 580.8,613.3 581.5,607.1 582.2,613.3 582.8,613.3 583.5,613.3 584.2,613.3 584.9,624.8 585.5,625.7 586.2,638.1 586.8,631.9 587.5,631.9 588.1,638.1 588.8,638.1 589.4,638.1 590.1,638.1 590.7,643.6 591.3,638.1 591.9,631.9 592.5,638.1 593.1,625.7 593.8,613.3 594.4,613.3 595,613.3 595.6,607.1 596.2,601.2 596.9,600.9 597.6,607.1 598.3,600.9 599,608.3 599.6,619.5 600.3,619.5 601,625.7 601.6,631.9 602.2,644.3 602.9,644.3 603.6,656.7 604.2,661.3 604.8,656.7 605.4,644.3 606,638.1 606.6,625.7 607.2,620 607.9,619.5 608.5,619.5 609.2,625.7 609.9,631.9 610.6,631.9 611.2,625.7 611.9,636.6 612.5,631.9 613.1,638.1 613.7,625.7 614.3,625.7 614.9,625.7 615.5,607.1 616.1,613.3 616.7,608.3 617.3,619.5 618,607.1 618.6,613.3 619.2,625.7 619.9,631.9 620.5,625.7 621.2,625.7 621.8,625.7 622.4,638.1 623.1,631.9 623.7,643.6 624.4,638.1 625.1,631.9 625.9,625.7 626.6,619.5 627.3,614.2 627.9,613.3 628.6,607.1 629.2,607.1 629.8,607.1 630.5,594.7 631.1,594.7 631.8,600.9 632.4,594.7 633,594.7 633.7,594.7 634.3,589.5 635,594.7 635.6,600.9 636.3,594.7 637,588.5 637.7,600.9 638.3,600.9 639,601.2 639.7,607.1 640.3,619.5 641,613.3 641.7,619.5 642.4,625.7 643,638.1 643.7,637.8 644.4,638.1 645.1,644.3 645.8,638.1 646.4,631.9 647.1,631.9 647.8,631.9 648.5,630.7 649.1,619.5 649.7,619.5 650.3,607.1 650.9,607.1 651.5,594.7 652.1,594.7 652.7,589.5 653.4,594.7 654.1,594.7 654.8,594.7 655.5,601.2 656.1,619.5 656.7,625.7 657.3,631.9 657.9,638.1 658.5,656.7 659.1,661.3 659.7,656.7 660.4,656.7 661,656.7 661.6,650.5 662.3,650.5 662.9,650.5 663.6,650.5 664.2,650.5 664.8,638.1 665.5,650.5 666.1,643.6 666.8,644.3 667.4,638.1 668.1,631.9 668.7,625.7 669.4,625.7 670,619.5 670.7,625.7 671.3,619.5 672,614.2 672.7,613.3 673.3,625.7 674,625.7 674.7,625.7 675.4,631.9 676,625.7 676.7,629.5 677.5,619.5 678.3,619.5 679.1,607 679.7,613.3 680.4,625.7 681,631.9 681.6,643.6 682.3,650.5 682.9,638.1 683.6,644.3 684.3,644.3 684.9,644.3 685.6,643.6 686.2,638.1 686.8,638.1 687.5,631.9 688.1,625.7 688.7,614.2 689.4,607.1 690.1,594.7 690.8,594.7 691.5,576.5 692.2,582.3 692.9,594.7 693.6,594.7 694.3,607.1 695,620 695.6,625.7 696.2,613.3 696.8,619.5 697.4,613.3 698,613.3 698.6,608.3 699.5,613.3 700.4,630.7 701.2,613.3 702,613.3 702.8,601.2 703.4,594.7 704.1,594.7 704.8,600.9 705.4,607.1 706,613.3 706.7,613.3 707.4,607.1 708,608.3 708.8,619.5 709.5,625.7 710.3,636.6 711,625.7 711.8,619.5 712.5,613.3 713.2,607 713.9,613.3 714.6,625.7 715.3,625.7 716,631.9 716.7,650.5 717.4,656.6 718.1,662.9 718.7,650.5 719.4,656.7 720,650.5 720.7,644.3 721.3,638.1 722,638.1 722.6,638.1 723.3,633 724,625.7 724.7,631.9 725.4,625.7 726.1,625.7 726.8,620 727.4,619.5 728,625.7 728.6,631.9 729.2,631.9 729.8,638.1 730.4,630.7 731,631.9 731.6,625.7 732.2,619.5 732.8,619.5 733.4,620 734,625.7 734.7,619.5 735.3,638.1 735.9,631.9 736.6,638.1 737.2,644.3 737.8,644.3 738.5,656.7 739.1,650.5 739.7,656.7 740.4,656.7 741,662.5 741.7,662.9 742.4,650.5 743.1,650.5 743.8,644.3 744.5,639 745.1,631.9 745.8,619.5 746.4,619.5 747.1,613.3 747.7,607.1 748.3,600.9 749,600.9 749.6,600.9 750.3,588.5 750.9,582.4 751.5,582.3 752.1,594.7 752.7,607.1 753.3,607.1 753.9,620 754.6,613.3 755.3,613.3 756,607.1 756.7,607.1 757.4,601.2 758.1,594.7 758.8,607.1 759.6,594.7 760.3,595.4 760.9,600.9 761.5,600.9 762.1,607.1 762.8,619.5 763.4,607.1 764,617.7 764.7,613.3 765.3,631.9 766,631.9 766.7,631.9 767.3,638.1 768,643.6 768.6,631.9 769.2,644.3 769.8,631.9 770.4,625.7 771,625.7 771.6,620 772.2,631.9 772.9,638.1 773.5,649.5 774.2,650.5 774.8,631.9 775.5,619.5 776.2,619.5 776.8,613.3 777.5,601.2 778.2,607.1 778.9,619.5 779.6,631.9 780.3,625.7 781,637.8 781.7,638.1 782.3,631.9 783,638.1 783.7,638.1 784.4,631.9 785,638.1 785.7,631.9 786.3,631.9 787,619.5 787.6,619.5 788.3,625.7 788.9,625.7 789.6,619.5 790.2,619.5 790.9,619.5 791.5,619.5 792.2,613.3 792.8,614.2 793.5,619.5 794.1,625.7 794.8,625.7 795.5,631.9 796.2,638.1 796.8,638.1 797.5,643.6 798.2,650.5 798.8,644.3 799.5,650.5 800.2,650.5 800.9,644.3 801.5,650.5 802.2,655.4 802.9,656.7 803.5,650.5 804.1,650.5 804.8,650.5 805.5,644.3 806.1,644.3 806.8,644.3 807.4,643.6 808,638.1 808.6,631.9 809.3,619.5 809.9,613.3 810.5,607 811.2,607.1 811.9,600.9 812.6,600.9 813.3,594.7 814,595.4 814.7,588.5 815.3,600.9 816,607.1 816.7,607.1 817.4,600.9 818,613.3 818.7,607 819.3,619.5 820,613.3 820.6,619.5 821.3,625.7 821.9,619.5 822.5,631.9 823.2,631.9 823.8,644.3 824.4,644.3 825.1,644.3 825.7,644.3 826.4,644.3 827,655.4 827.7,650.5 828.3,644.3 829,644.3 829.7,638.1 830.4,631.9 831,638.1 831.7,626 832.4,619.5 833.1,613.3 833.7,607.1 834.4,613.3 835.1,600.9 835.8,594.7 836.4,588.5 837.1,582.4 837.8,588.5 838.4,594.7 839.1,600.9 839.8,607.1 840.4,619.5 841.1,620 841.8,619.5 842.5,638.1 843.2,638.1 843.9,638.1 844.6,643.6 845.3,631.9 846,631.9 846.7,625.7 847.4,619.5 848.1,607 848.8,613.3 849.5,619.5 850.2,625.7 850.8,625.7 851.5,638.1 852.2,638.1 852.9,643.6 853.6,638.1 854.3,631.9 855,631.9 855.7,631.9 856.4,626 857.1,631.9 857.7,631.9 858.4,638.1 859.1,644.3 859.8,644.3 860.4,656.7 861.1,655.4 861.8,650.5 862.4,662.9 863.1,656.7 863.7,656.7 864.4,650.5 865,656.7 865.7,656.7 866.3,650.5 867,655.4 867.7,644.3 868.4,631.9 869.1,619.5 869.8,619.5 870.5,602.4 871.2,594.7 871.8,607.1 872.5,607.1 873.2,600.9 873.9,594.7 874.5,594.7 875.2,595.4 875.9,607.1 876.6,600.9 877.4,607.1 878.1,619.5 878.8,614.2 879.5,619.5 880.2,625.7 880.9,631.9 881.6,631.9 882.3,636.6 883,638.1 883.6,631.9 884.3,631.9 885,631.9 885.7,625.7 886.3,625.7 887,620 887.7,619.5 888.4,631.9 889.1,638.1 889.8,625.7 890.5,637.8 891.2,625.7 891.8,619.5 892.5,607.1 893.2,594.7 893.8,582.3 894.5,576.5 895.1,576.1 895.8,582.3 896.4,594.7 897,590 897.6,594.7 898.2,594.7 898.8,588.5 899.4,594.7 900,598 900.7,619.5 901.3,631.9 902,639.6 902.7,631.9 903.3,644.3 904,644.3 904.7,631.9 905.3,625.7 906,632 906.6,631.9 907.2,638.1 907.8,644.3 908.5,631.9 909.1,638.1 909.7,644.3 910.3,639.6 910.8,632.4" fill="none" stroke="#62e8ea" stroke-width="2.5" stroke-linejoin="miter" stroke-miterlimit="2" stroke-linejoin="round"/>
<rect x="30.8" y="542.9" width="890.3" height="140.1" fill="none" stroke="#707070" stroke-width="1.3"/>
<line x1="30.8" y1="542.4" x2="30.8" y2="683.5" stroke="#606060" stroke-width="1.7" />
<line x1="26.8" y1="683" x2="921.1" y2="683" stroke="#606060" stroke-width="1.7" />
<line x1="27.3" y1="650.5" x2="34.8" y2="650.5" stroke="#606060" stroke-width="1.1" />
<text x="25.8" y="653" font-family='"Liberation Sans", sans-serif' font-size="7.2" font-weight="normal" font-style="normal" text-anchor="end" fill="#2e2e2e" >25</text>
<line x1="27.3" y1="619.5" x2="34.8" y2="619.5" stroke="#606060" stroke-width="1.1" />
<text x="25.8" y="622" font-family='"Liberation Sans", sans-serif' font-size="7.2" font-weight="normal" font-style="normal" text-anchor="end" fill="#2e2e2e" >30</text>
<line x1="27.3" y1="588.5" x2="34.8" y2="588.5" stroke="#606060" stroke-width="1.1" />
<text x="25.8" y="591" font-family='"Liberation Sans", sans-serif' font-size="7.2" font-weight="normal" font-style="normal" text-anchor="end" fill="#2e2e2e" >35</text>
<line x1="27.3" y1="557.5" x2="34.8" y2="557.5" stroke="#606060" stroke-width="1.1" />
<text x="25.8" y="560" font-family='"Liberation Sans", sans-serif' font-size="7.2" font-weight="normal" font-style="normal" text-anchor="end" fill="#2e2e2e" >40</text>
<line x1="30.8" y1="675.3" x2="34.8" y2="675.3" stroke="#606060" stroke-width="1.1" />
<line x1="30.8" y1="669.1" x2="34.8" y2="669.1" stroke="#606060" stroke-width="1.1" />
<line x1="30.8" y1="662.9" x2="34.8" y2="662.9" stroke="#606060" stroke-width="1.1" />
<line x1="30.8" y1="656.7" x2="34.8" y2="656.7" stroke="#606060" stroke-width="1.1" />
<line x1="30.8" y1="644.3" x2="34.8" y2="644.3" stroke="#606060" stroke-width="1.1" />
<line x1="30.8" y1="638.1" x2="34.8" y2="638.1" stroke="#606060" stroke-width="1.1" />
<line x1="30.8" y1="631.9" x2="34.8" y2="631.9" stroke="#606060" stroke-width="1.1" />
<line x1="30.8" y1="625.7" x2="34.8" y2="625.7" stroke="#606060" stroke-width="1.1" />
<line x1="30.8" y1="613.3" x2="34.8" y2="613.3" stroke="#606060" stroke-width="1.1" />
<line x1="30.8" y1="607.1" x2="34.8" y2="607.1" stroke="#606060" stroke-width="1.1" />
<line x1="30.8" y1="600.9" x2="34.8" y2="600.9" stroke="#606060" stroke-width="1.1" />
<line x1="30.8" y1="594.7" x2="34.8" y2="594.7" stroke="#606060" stroke-width="1.1" />
<line x1="30.8" y1="582.3" x2="34.8" y2="582.3" stroke="#606060" stroke-width="1.1" />
<line x1="30.8" y1="576.1" x2="34.8" y2="576.1" stroke="#606060" stroke-width="1.1" />
<line x1="30.8" y1="569.9" x2="34.8" y2="569.9" stroke="#606060" stroke-width="1.1" />
<line x1="30.8" y1="563.7" x2="34.8" y2="563.7" stroke="#606060" stroke-width="1.1" />
<line x1="30.8" y1="551.3" x2="34.8" y2="551.3" stroke="#606060" stroke-width="1.1" />
<line x1="30.8" y1="545.1" x2="34.8" y2="545.1" stroke="#606060" stroke-width="1.1" />
<line x1="39.4" y1="679.5" x2="39.4" y2="687" stroke="#606060" stroke-width="1.1" />
<text x="39.4" y="694.3" font-family='"Liberation Sans", sans-serif' font-size="7.2" font-weight="normal" font-style="normal" text-anchor="middle" fill="#2e2e2e" >Sun 5</text>
<line x1="75.8" y1="679.5" x2="75.8" y2="683" stroke="#606060" stroke-width="1.0" />
<line x1="112.1" y1="679.5" x2="112.1" y2="683" stroke="#606060" stroke-width="1.0" />
<line x1="148.5" y1="679.5" x2="148.5" y2="687" stroke="#606060" stroke-width="1.1" />
<text x="148.5" y="694.3" font-family='"Liberation Sans", sans-serif' font-size="7.2" font-weight="normal" font-style="normal" text-anchor="middle" fill="#2e2e2e" >3:00</text>
<line x1="184.8" y1="679.5" x2="184.8" y2="683" stroke="#606060" stroke-width="1.0" />
<line x1="221.2" y1="679.5" x2="221.2" y2="683" stroke="#606060" stroke-width="1.0" />
<line x1="257.6" y1="679.5" x2="257.6" y2="687" stroke="#606060" stroke-width="1.1" />
<text x="257.6" y="694.3" font-family='"Liberation Sans", sans-serif' font-size="7.2" font-weight="normal" font-style="normal" text-anchor="middle" fill="#2e2e2e" >6:00</text>
<line x1="293.9" y1="679.5" x2="293.9" y2="683" stroke="#606060" stroke-width="1.0" />
<line x1="330.3" y1="679.5" x2="330.3" y2="683" stroke="#606060" stroke-width="1.0" />
<line x1="366.6" y1="679.5" x2="366.6" y2="687" stroke="#606060" stroke-width="1.1" />
<text x="366.6" y="694.3" font-family='"Liberation Sans", sans-serif' font-size="7.2" font-weight="normal" font-style="normal" text-anchor="middle" fill="#2e2e2e" >9:00</text>
<line x1="403" y1="679.5" x2="403" y2="683" stroke="#606060" stroke-width="1.0" />
<line x1="439.3" y1="679.5" x2="439.3" y2="683" stroke="#606060" stroke-width="1.0" />
<line x1="475.7" y1="679.5" x2="475.7" y2="687" stroke="#606060" stroke-width="1.1" />
<text x="475.7" y="694.3" font-family='"Liberation Sans", sans-serif' font-size="7.2" font-weight="normal" font-style="normal" text-anchor="middle" fill="#2e2e2e" >12:00</text>
<line x1="512.1" y1="679.5" x2="512.1" y2="683" stroke="#606060" stroke-width="1.0" />
<line x1="548.4" y1="679.5" x2="548.4" y2="683" stroke="#606060" stroke-width="1.0" />
<line x1="584.8" y1="679.5" x2="584.8" y2="687" stroke="#606060" stroke-width="1.1" />
<text x="584.8" y="694.3" font-family='"Liberation Sans", sans-serif' font-size="7.2" font-weight="normal" font-style="normal" text-anchor="middle" fill="#2e2e2e" >15:00</text>
<line x1="621.1" y1="679.5" x2="621.1" y2="683" stroke="#606060" stroke-width="1.0" />
<line x1="657.5" y1="679.5" x2="657.5" y2="683" stroke="#606060" stroke-width="1.0" />
<line x1="693.9" y1="679.5" x2="693.9" y2="687" stroke="#606060" stroke-width="1.1" />
<text x="693.9" y="694.3" font-family='"Liberation Sans", sans-serif' font-size="7.2" font-weight="normal" font-style="normal" text-anchor="middle" fill="#2e2e2e" >18:00</text>
<line x1="730.2" y1="679.5" x2="730.2" y2="683" stroke="#606060" stroke-width="1.0" />
<line x1="766.6" y1="679.5" x2="766.6" y2="683" stroke="#606060" stroke-width="1.0" />
<line x1="802.9" y1="679.5" x2="802.9" y2="687" stroke="#606060" stroke-width="1.1" />
<text x="802.9" y="694.3" font-family='"Liberation Sans", sans-serif' font-size="7.2" font-weight="normal" font-style="normal" text-anchor="middle" fill="#2e2e2e" >21:00</text>
<line x1="839.3" y1="679.5" x2="839.3" y2="683" stroke="#606060" stroke-width="1.0" />
<line x1="875.6" y1="679.5" x2="875.6" y2="683" stroke="#606060" stroke-width="1.0" />
<line x1="912" y1="679.5" x2="912" y2="687" stroke="#606060" stroke-width="1.1" />
<text x="912" y="694.3" font-family='"Liberation Sans", sans-serif' font-size="7.2" font-weight="normal" font-style="normal" text-anchor="middle" fill="#2e2e2e" >Mon 6</text>
<text x="29.4" y="703" font-family='"Liberation Sans", sans-serif' font-size="7.2" font-weight="normal" font-style="normal" text-anchor="middle" fill="#2e2e2e" >25 Jan</text>
<text x="475" y="705.6" font-family='"Liberation Sans", sans-serif' font-size="10" font-weight="normal" font-style="normal" text-anchor="middle" fill="#333" >Time (UTCG)</text>
<text x="476" y="537" font-family='"Liberation Sans", sans-serif' font-size="10.1" font-weight="bold" font-style="italic" text-anchor="middle" fill="#1e1e1e" >Civil Air Patrol Use Only</text>
<text transform="translate(14.8,610.7) rotate(-90)" font-family='"Liberation Sans", sans-serif' font-size="10.2" text-anchor="middle" fill="#333">FOM Value</text>
<rect x="30.5" y="814.4" width="892.3" height="2.1" fill="#f7f7f8"/>
<rect x="30.5" y="842.5" width="892.3" height="26.1" fill="#f7f7f8"/>
<rect x="30.5" y="894.6" width="892.3" height="26.1" fill="#f7f7f8"/>
<rect x="30.5" y="946.8" width="892.3" height="15.5" fill="#f7f7f8"/>
<polyline points="38.9,894.6 40.1,894.6 40.7,920.7 45,920.7 45.6,946.8 46.2,920.7 49.8,920.7 50.4,894.6 51.6,894.6 52.2,946.8 54,946.8 54.7,920.7 55.3,946.8 55.9,946.8 56.5,920.7 57.1,946.8 57.7,946.8 58.3,920.7 65.6,920.7 66.2,894.6 67.4,894.6 68,865.3 68.6,816.5 69.8,816.5 70.4,842.5 71.6,842.5 72.2,855 72.8,872.5 73.4,894.6 74,894.6 74.7,920.7 78.9,920.7 79.5,868.6 81.9,868.6 82.5,875.8 83.1,894.6 85,894.6 85.6,920.7 86.2,920.7 86.8,894.6 87.4,920.7 90.4,920.7 91,894.6 91.6,862.2 92.2,842.5 93.4,842.5 94,867 94.7,884.6 95.3,894.6 96.5,894.6 97.1,920.7 98.3,920.7 98.9,894.6 99.5,894.6 100.1,920.7 105,920.7 105.6,894.6 106.2,920.7 106.8,920.7 107.4,946.8 110.4,946.8 111,920.7 111.6,920.7 112.2,946.8 115.3,946.8 115.9,920.7 116.5,946.8 117.1,946.8 117.7,920.7 118.3,946.8 119.5,946.8 120.1,920.7 126.2,920.7 126.8,894.6 128.6,894.6 129.2,868.6 131,868.6 131.6,894.6 132.8,894.6 133.4,868.6 134,894.6 135.3,894.6 135.9,908 136.5,920.7 139.5,920.7 140.1,868.6 143.1,868.6 143.7,890 144.3,907.5 144.9,920.7 145.6,920.7 146.2,894.6 146.8,920.7 148.6,920.7 149.2,905.7 149.8,894.6 150.4,871.7 151,852 151.6,832.3 152.2,816.5 152.8,831.1 153.4,842.5 154.6,842.5 155.3,868.6 155.9,842.5 157.1,842.5 157.7,870.4 158.3,895.3 158.9,920.7 168.6,920.7 169.2,946.8 169.8,930.6 170.4,920.7 172.8,920.7 173.4,946.8 174,932.5 174.6,920.7 178.3,920.7 178.9,946.8 179.5,934 180.1,920.7 186.2,920.7 186.8,935.8 187.4,946.8 188,920.7 191,920.7 191.6,914.4 192.2,902.3 192.8,894.6 194,894.6 194.6,868.6 195.2,894.6 196.5,894.6 197.1,920.7 198.9,920.7 199.5,886.4 200.1,868.6 201.3,868.6 201.9,894.6 203.7,894.6 204.3,920.7 208.6,920.7 209.2,905.8 209.8,894.6 211,894.6 211.6,871.9 212.2,849.4 212.8,816.5 213.4,822.2 214,832.7 214.6,842.5 215.2,868.6 215.9,842.5 216.5,868.6 221.9,868.6 222.5,920.7 229.2,920.7 229.8,946.8 231.6,946.8 232.2,920.7 232.8,946.8 234.6,946.8 235.2,920.7 238.9,920.7 239.5,946.8 240.1,934 240.7,920.7 246.2,920.7 246.8,946.8 247.4,946.8 248,920.7 255.2,920.7 255.8,946.8 256.5,920.7 259.5,920.7 260.1,900.2 260.7,879.2 261.3,868.6 261.9,894.6 263.1,894.6 263.7,920.7 269.8,920.7 270.4,894.6 271,920.7 271.6,920.7 272.2,894.6 272.8,894.6 273.4,868.6 274,894.6 274.6,868.6 275.2,868.6 275.8,894.6 276.5,894.6 277.1,868.6 277.7,894.6 278.9,894.6 279.5,868.6 280.1,868.6 280.7,894.6 281.3,894.6 281.9,868.6 282.5,894.6 283.1,894.6 283.7,868.6 284.3,894.6 284.9,894.6 285.5,920.7 286.1,894.6 286.8,920.7 288.6,920.7 289.2,946.8 289.8,920.7 290.4,946.8 291,920.7 292.2,920.7 292.8,946.8 294,946.8 294.6,920.7 295.2,946.8 297.1,946.8 297.7,920.7 298.9,920.7 299.5,946.8 300.7,946.8 301.3,920.7 304.3,920.7 304.9,894.6 305.5,920.7 307.4,920.7 308,894.6 308.6,894.6 309.2,920.7 311.6,920.7 312.2,894.6 312.8,894.6 313.4,920.7 316.4,920.7 317.1,946.8 321.9,946.8 322.5,920.7 330.4,920.7 331,894.6 331.6,894.6 332.2,920.7 332.8,920.7 333.4,894.6 334,894.6 334.6,920.7 335.2,920.7 335.8,894.6 336.4,894.6 337.1,920.7 337.7,894.6 338.3,920.7 338.9,920.7 339.5,894.6 340.1,920.7 340.7,920.7 341.3,868.6 341.9,894.6 342.5,920.7 343.1,920.7 343.7,894.6 344.3,920.7 344.9,920.7 345.5,894.6 346.1,894.6 346.7,920.7 347.4,920.7 348,894.6 348.6,894.6 349.2,920.7 355.2,920.7 355.8,946.8 356.4,920.7 361.3,920.7 361.9,946.8 362.5,920.7 366.1,920.7 366.7,894.6 367.4,920.7 368.6,920.7 369.2,894.6 369.8,920.7 371.6,920.7 372.2,894.6 372.8,894.6 373.4,920.7 376.4,920.7 377,946.8 377.7,920.7 378.3,920.7 378.9,946.8 380.1,946.8 380.7,920.7 381.3,920.7 381.9,946.8 382.5,920.7 383.1,920.7 383.7,894.6 384.3,920.7 384.9,894.6 385.5,894.6 386.1,920.7 386.7,868.6 387.3,894.6 388,920.7 389.2,920.7 389.8,894.6 390.4,920.7 391,920.7 391.6,894.6 392.2,894.6 392.8,920.7 393.4,920.7 394,894.6 394.6,894.6 395.2,920.7 395.8,894.6 396.4,920.7 397.7,920.7 398.3,894.6 404.9,894.6 405.5,920.7 406.1,894.6 407.3,894.6 408,920.7 409.2,920.7 409.8,894.6 410.4,920.7 411,920.7 411.6,894.6 412.2,894.6 412.8,920.7 416.4,920.7 417,946.8 417.6,920.7 421.3,920.7 421.9,946.8 422.5,920.7 423.1,894.6 423.7,894.6 424.3,920.7 426.7,920.7 427.3,894.6 428,920.7 429.8,920.7 430.4,894.6 431.6,894.6 432.2,920.7 434.6,920.7 435.2,894.6 435.8,920.7 437,920.7 437.6,894.6 438.3,920.7 439.5,920.7 440.1,894.6 441.3,894.6 441.9,920.7 442.5,920.7 443.1,946.8 443.7,920.7 446.7,920.7 447.3,946.8 447.9,920.7 448.6,920.7 449.2,894.6 449.8,920.7 451,920.7 451.6,894.6 452.8,894.6 453.4,920.7 455.2,920.7 455.8,894.6 456.4,894.6 457,920.7 458.3,920.7 458.9,894.6 460.7,894.6 461.3,920.7 461.9,920.7 462.5,894.6 463.1,894.6 463.7,920.7 464.3,920.7 464.9,894.6 465.5,920.7 466.1,894.6 466.7,920.7 467.3,920.7 467.9,894.6 468.6,920.7 469.8,920.7 470.4,894.6 471,920.7 472.2,920.7 472.8,894.6 473.4,920.7 474.6,920.7 475.2,894.6 475.8,920.7 476.4,920.7 477,894.6 477.6,894.6 478.2,920.7 478.9,920.7 479.5,894.6 480.1,920.7 481.3,920.7 481.9,894.6 482.5,920.7 483.1,894.6 483.7,920.7 484.3,894.6 484.9,920.7 485.5,920.7 486.1,894.6 486.7,920.7 487.9,920.7 488.6,894.6 489.2,920.7 489.8,920.7 490.4,894.6 491,894.6 491.6,920.7 492.2,894.6 492.8,920.7 493.4,894.6 494,920.7 495.2,920.7 495.8,894.6 496.4,920.7 497,920.7 497.6,894.6 498.2,920.7 499.5,920.7 500.1,946.8 500.7,920.7 504.3,920.7 504.9,946.8 505.5,920.7 506.1,920.7 506.7,894.6 507.3,920.7 507.9,920.7 508.5,894.6 509.8,894.6 510.4,920.7 511,920.7 511.6,894.6 512.2,920.7 512.8,920.7 513.4,894.6 514.6,894.6 515.2,920.7 517.6,920.7 518.2,894.6 519.5,894.6 520.1,920.7 520.7,894.6 521.9,894.6 522.5,920.7 524.9,920.7 525.5,894.6 526.1,894.6 526.7,920.7 527.9,920.7 528.5,894.6 529.2,894.6 529.8,920.7 531.6,920.7 532.2,894.6 532.8,894.6 533.4,920.7 534,920.7 534.6,894.6 535.2,881.4 535.8,868.6 537.6,868.6 538.2,860.8 538.9,854.5 539.5,848.2 540.1,842.5 540.7,854.2 541.3,868.6 541.9,875.2 542.5,885.7 543.1,894.6 543.7,920.7 549.2,920.7 549.8,946.8 550.4,920.7 551,920.7 551.6,946.8 552.2,920.7 553.4,920.7 554,894.6 554.6,920.7 557,920.7 557.6,894.6 558.8,894.6 559.5,920.7 560.7,920.7 561.3,946.8 561.9,920.7 564.9,920.7 565.5,946.8 566.1,920.7 574.6,920.7 575.2,894.6 575.8,894.6 576.4,920.7 577,920.7 577.6,894.6 578.2,920.7 578.8,920.7 579.5,894.6 580.1,920.7 580.7,920.7 581.3,894.6 581.9,920.7 582.5,920.7 583.1,894.6 583.7,920.7 584.3,894.6 584.9,920.7 586.1,920.7 586.7,894.6 587.3,894.6 587.9,920.7 588.5,920.7 589.1,894.6 589.8,894.6 590.4,920.7 591,920.7 591.6,894.6 592.2,894.6 592.8,920.7 593.4,894.6 594,920.7 594.6,920.7 595.2,894.6 595.8,920.7 596.4,920.7 597,894.6 597.6,878.2 598.2,868.6 598.8,842.5 601.3,842.5 601.9,851.3 602.5,860.6 603.1,868.6 603.7,880.6 604.3,894.6 604.9,887.6 605.5,877.1 606.1,868.6 606.7,859.2 607.3,851.3 607.9,842.5 608.5,870.7 609.1,894.6 609.8,920.7 610.4,920.7 611,946.8 611.6,920.7 614.6,920.7 615.2,894.6 616.4,894.6 617,920.7 617.6,894.6 618.2,894.6 618.8,920.7 620.7,920.7 621.3,894.6 622.5,894.6 623.1,920.7 623.7,894.6 624.3,920.7 625.5,920.7 626.1,894.6 626.7,920.7 627.3,920.7 627.9,946.8 628.5,920.7 631,920.7 631.6,894.6 632.8,894.6 633.4,920.7 634,894.6 635.2,894.6 635.8,920.7 636.4,946.8 637,920.7 638.2,920.7 638.8,894.6 639.4,894.6 640.1,920.7 641.3,920.7 641.9,894.6 642.5,894.6 643.1,920.7 644.9,920.7 645.5,894.6 646.1,920.7 646.7,920.7 647.3,894.6 648.5,894.6 649.1,920.7 651,920.7 651.6,894.6 652.2,894.6 652.8,920.7 654,920.7 654.6,894.6 655.2,920.7 657,920.7 657.6,894.6 658.2,894.6 658.8,868.6 659.4,859 660,842.5 660.7,854.4 661.3,868.6 662.5,868.6 663.1,894.6 665.5,894.6 666.1,868.6 666.7,868.6 667.3,894.6 667.9,920.7 675.2,920.7 675.8,894.6 676.4,894.6 677,920.7 679.4,920.7 680,894.6 680.7,894.6 681.3,920.7 682.5,920.7 683.1,894.6 683.7,894.6 684.3,920.7 686.1,920.7 686.7,894.6 687.3,920.7 689.7,920.7 690.3,946.8 691,920.7 692.2,920.7 692.8,894.6 693.4,920.7 697,920.7 697.6,946.8 698.2,920.7 709.1,920.7 709.7,894.6 715.8,894.6 716.4,920.7 717,920.7 717.6,894.6 718.2,868.6 718.8,894.6 719.4,868.6 720,894.6 720.6,894.6 721.3,868.6 721.9,894.6 722.5,894.6 723.1,868.6 723.7,894.6 724.3,894.6 724.9,868.6 725.5,894.6 726.1,894.6 726.7,868.6 727.3,868.6 727.9,894.6 728.5,894.6 729.1,868.6 729.7,920.7 731,920.7 731.6,894.6 732.2,894.6 732.8,920.7 734.6,920.7 735.2,894.6 735.8,894.6 736.4,868.6 737,920.7 740,920.7 740.6,894.6 741.3,894.6 741.9,920.7 743.7,920.7 744.3,894.6 744.9,920.7 746.1,920.7 746.7,894.6 747.3,920.7 747.9,894.6 748.5,920.7 749.7,920.7 750.3,894.6 750.9,920.7 758.8,920.7 759.4,946.8 760,920.7 767.9,920.7 768.5,894.6 769.1,894.6 769.7,920.7 770.3,920.7 770.9,894.6 771.6,894.6 772.2,920.7 773.4,920.7 774,894.6 775.2,894.6 775.8,920.7 777,920.7 777.6,894.6 778.2,879 778.8,868.6 780,868.6 780.6,886.9 781.2,894.6 782.5,894.6 783.1,920.7 784.9,920.7 785.5,868.6 786.1,920.7 787.3,920.7 787.9,946.8 788.5,920.7 790.9,920.7 791.6,894.6 792.8,894.6 793.4,920.7 794.6,920.7 795.2,894.6 795.8,894.6 796.4,920.7 797.6,920.7 798.2,894.6 798.8,920.7 799.4,920.7 800,894.6 806.7,894.6 807.3,920.7 818.2,920.7 818.8,946.8 820,946.8 820.6,920.7 826.7,920.7 827.3,894.6 828.5,894.6 829.1,920.7 830.9,920.7 831.5,894.6 832.2,894.6 832.8,920.7 834,920.7 834.6,894.6 835.2,894.6 835.8,920.7 838.8,920.7 839.4,868.6 840,920.7 841.8,920.7 842.5,894.6 843.7,894.6 844.3,920.7 845.5,920.7 846.1,894.6 847.3,894.6 847.9,920.7 852.2,920.7 852.8,894.6 853.4,894.6 854,920.7 855.2,920.7 855.8,894.6 856.4,920.7 860.6,920.7 861.2,894.6 862.5,894.6 863.1,920.7 866.1,920.7 866.7,894.6 867.3,894.6 867.9,920.7 869.7,920.7 870.3,894.6 870.9,894.6 871.5,920.7 877,920.7 877.6,894.6 878.2,920.7 879.4,920.7 880,946.8 881.2,946.8 881.8,920.7 882.5,946.8 883.1,920.7 884.3,920.7 884.9,946.8 886.1,946.8 886.7,920.7 896.4,920.7 897,894.6 897.6,894.6 898.2,920.7 898.8,868.6 899.4,920.7 900,920.7 900.6,894.6 901.2,920.7 907.9,920.7 908.5,894.6 909.1,920.7 912.8,920.7 913.4,894.6" fill="none" stroke="#4fe5ea" stroke-width="1.8" stroke-linejoin="miter" stroke-miterlimit="2" />
<rect x="30.5" y="814.4" width="892.3" height="147.8" fill="none" stroke="#707070" stroke-width="1.3"/>
<line x1="30.5" y1="813.9" x2="30.5" y2="962.7" stroke="#606060" stroke-width="1.7" />
<line x1="26.5" y1="962.2" x2="922.8" y2="962.2" stroke="#606060" stroke-width="1.7" />
<line x1="27" y1="946.8" x2="34.5" y2="946.8" stroke="#606060" stroke-width="1.1" />
<text x="26.5" y="949.2" font-family='"Liberation Sans", sans-serif' font-size="7.2" font-weight="normal" font-style="normal" text-anchor="end" fill="#2e2e2e" >5</text>
<line x1="27" y1="920.7" x2="34.5" y2="920.7" stroke="#606060" stroke-width="1.1" />
<text x="26.5" y="923.2" font-family='"Liberation Sans", sans-serif' font-size="7.2" font-weight="normal" font-style="normal" text-anchor="end" fill="#2e2e2e" >6</text>
<line x1="27" y1="894.6" x2="34.5" y2="894.6" stroke="#606060" stroke-width="1.1" />
<text x="26.5" y="897.1" font-family='"Liberation Sans", sans-serif' font-size="7.2" font-weight="normal" font-style="normal" text-anchor="end" fill="#2e2e2e" >7</text>
<line x1="27" y1="868.6" x2="34.5" y2="868.6" stroke="#606060" stroke-width="1.1" />
<text x="26.5" y="871.1" font-family='"Liberation Sans", sans-serif' font-size="7.2" font-weight="normal" font-style="normal" text-anchor="end" fill="#2e2e2e" >8</text>
<line x1="27" y1="842.5" x2="34.5" y2="842.5" stroke="#606060" stroke-width="1.1" />
<text x="26.5" y="845" font-family='"Liberation Sans", sans-serif' font-size="7.2" font-weight="normal" font-style="normal" text-anchor="end" fill="#2e2e2e" >9</text>
<line x1="27" y1="816.5" x2="34.5" y2="816.5" stroke="#606060" stroke-width="1.1" />
<text x="26.5" y="819" font-family='"Liberation Sans", sans-serif' font-size="7.2" font-weight="normal" font-style="normal" text-anchor="end" fill="#2e2e2e" >10</text>
<line x1="30.5" y1="957.2" x2="34.5" y2="957.2" stroke="#606060" stroke-width="1.1" />
<line x1="30.5" y1="952" x2="34.5" y2="952" stroke="#606060" stroke-width="1.1" />
<line x1="30.5" y1="941.5" x2="34.5" y2="941.5" stroke="#606060" stroke-width="1.1" />
<line x1="30.5" y1="936.3" x2="34.5" y2="936.3" stroke="#606060" stroke-width="1.1" />
<line x1="30.5" y1="931.1" x2="34.5" y2="931.1" stroke="#606060" stroke-width="1.1" />
<line x1="30.5" y1="925.9" x2="34.5" y2="925.9" stroke="#606060" stroke-width="1.1" />
<line x1="30.5" y1="915.5" x2="34.5" y2="915.5" stroke="#606060" stroke-width="1.1" />
<line x1="30.5" y1="910.3" x2="34.5" y2="910.3" stroke="#606060" stroke-width="1.1" />
<line x1="30.5" y1="905.1" x2="34.5" y2="905.1" stroke="#606060" stroke-width="1.1" />
<line x1="30.5" y1="899.9" x2="34.5" y2="899.9" stroke="#606060" stroke-width="1.1" />
<line x1="30.5" y1="889.4" x2="34.5" y2="889.4" stroke="#606060" stroke-width="1.1" />
<line x1="30.5" y1="884.2" x2="34.5" y2="884.2" stroke="#606060" stroke-width="1.1" />
<line x1="30.5" y1="879" x2="34.5" y2="879" stroke="#606060" stroke-width="1.1" />
<line x1="30.5" y1="873.8" x2="34.5" y2="873.8" stroke="#606060" stroke-width="1.1" />
<line x1="30.5" y1="863.4" x2="34.5" y2="863.4" stroke="#606060" stroke-width="1.1" />
<line x1="30.5" y1="858.2" x2="34.5" y2="858.2" stroke="#606060" stroke-width="1.1" />
<line x1="30.5" y1="853" x2="34.5" y2="853" stroke="#606060" stroke-width="1.1" />
<line x1="30.5" y1="847.8" x2="34.5" y2="847.8" stroke="#606060" stroke-width="1.1" />
<line x1="30.5" y1="837.3" x2="34.5" y2="837.3" stroke="#606060" stroke-width="1.1" />
<line x1="30.5" y1="832.1" x2="34.5" y2="832.1" stroke="#606060" stroke-width="1.1" />
<line x1="30.5" y1="826.9" x2="34.5" y2="826.9" stroke="#606060" stroke-width="1.1" />
<line x1="30.5" y1="821.7" x2="34.5" y2="821.7" stroke="#606060" stroke-width="1.1" />
<line x1="38.9" y1="958.7" x2="38.9" y2="966.2" stroke="#606060" stroke-width="1.1" />
<text x="38.9" y="973.6" font-family='"Liberation Sans", sans-serif' font-size="7.2" font-weight="normal" font-style="normal" text-anchor="middle" fill="#2e2e2e" >Sun 5</text>
<line x1="75.3" y1="958.7" x2="75.3" y2="962.2" stroke="#606060" stroke-width="1.0" />
<line x1="111.8" y1="958.7" x2="111.8" y2="962.2" stroke="#606060" stroke-width="1.0" />
<line x1="148.2" y1="958.7" x2="148.2" y2="966.2" stroke="#606060" stroke-width="1.1" />
<text x="148.2" y="973.6" font-family='"Liberation Sans", sans-serif' font-size="7.2" font-weight="normal" font-style="normal" text-anchor="middle" fill="#2e2e2e" >3:00</text>
<line x1="184.7" y1="958.7" x2="184.7" y2="962.2" stroke="#606060" stroke-width="1.0" />
<line x1="221.2" y1="958.7" x2="221.2" y2="962.2" stroke="#606060" stroke-width="1.0" />
<line x1="257.6" y1="958.7" x2="257.6" y2="966.2" stroke="#606060" stroke-width="1.1" />
<text x="257.6" y="973.6" font-family='"Liberation Sans", sans-serif' font-size="7.2" font-weight="normal" font-style="normal" text-anchor="middle" fill="#2e2e2e" >6:00</text>
<line x1="294.1" y1="958.7" x2="294.1" y2="962.2" stroke="#606060" stroke-width="1.0" />
<line x1="330.5" y1="958.7" x2="330.5" y2="962.2" stroke="#606060" stroke-width="1.0" />
<line x1="366.9" y1="958.7" x2="366.9" y2="966.2" stroke="#606060" stroke-width="1.1" />
<text x="366.9" y="973.6" font-family='"Liberation Sans", sans-serif' font-size="7.2" font-weight="normal" font-style="normal" text-anchor="middle" fill="#2e2e2e" >9:00</text>
<line x1="403.4" y1="958.7" x2="403.4" y2="962.2" stroke="#606060" stroke-width="1.0" />
<line x1="439.9" y1="958.7" x2="439.9" y2="962.2" stroke="#606060" stroke-width="1.0" />
<line x1="476.3" y1="958.7" x2="476.3" y2="966.2" stroke="#606060" stroke-width="1.1" />
<text x="476.3" y="973.6" font-family='"Liberation Sans", sans-serif' font-size="7.2" font-weight="normal" font-style="normal" text-anchor="middle" fill="#2e2e2e" >12:00</text>
<line x1="512.8" y1="958.7" x2="512.8" y2="962.2" stroke="#606060" stroke-width="1.0" />
<line x1="549.2" y1="958.7" x2="549.2" y2="962.2" stroke="#606060" stroke-width="1.0" />
<line x1="585.6" y1="958.7" x2="585.6" y2="966.2" stroke="#606060" stroke-width="1.1" />
<text x="585.6" y="973.6" font-family='"Liberation Sans", sans-serif' font-size="7.2" font-weight="normal" font-style="normal" text-anchor="middle" fill="#2e2e2e" >15:00</text>
<line x1="622.1" y1="958.7" x2="622.1" y2="962.2" stroke="#606060" stroke-width="1.0" />
<line x1="658.6" y1="958.7" x2="658.6" y2="962.2" stroke="#606060" stroke-width="1.0" />
<line x1="695" y1="958.7" x2="695" y2="966.2" stroke="#606060" stroke-width="1.1" />
<text x="695" y="973.6" font-family='"Liberation Sans", sans-serif' font-size="7.2" font-weight="normal" font-style="normal" text-anchor="middle" fill="#2e2e2e" >18:00</text>
<line x1="731.5" y1="958.7" x2="731.5" y2="962.2" stroke="#606060" stroke-width="1.0" />
<line x1="767.9" y1="958.7" x2="767.9" y2="962.2" stroke="#606060" stroke-width="1.0" />
<line x1="804.4" y1="958.7" x2="804.4" y2="966.2" stroke="#606060" stroke-width="1.1" />
<text x="804.4" y="973.6" font-family='"Liberation Sans", sans-serif' font-size="7.2" font-weight="normal" font-style="normal" text-anchor="middle" fill="#2e2e2e" >21:00</text>
<line x1="840.8" y1="958.7" x2="840.8" y2="962.2" stroke="#606060" stroke-width="1.0" />
<line x1="877.2" y1="958.7" x2="877.2" y2="962.2" stroke="#606060" stroke-width="1.0" />
<line x1="913.7" y1="958.7" x2="913.7" y2="966.2" stroke="#606060" stroke-width="1.1" />
<text x="913.7" y="973.6" font-family='"Liberation Sans", sans-serif' font-size="7.2" font-weight="normal" font-style="normal" text-anchor="middle" fill="#2e2e2e" >Mon 6</text>
<text x="25.3" y="982.4" font-family='"Liberation Sans", sans-serif' font-size="7.2" font-weight="normal" font-style="normal" text-anchor="middle" fill="#2e2e2e" >2025 Jan</text>
<text x="475" y="985" font-family='"Liberation Sans", sans-serif' font-size="10" font-weight="normal" font-style="normal" text-anchor="middle" fill="#333" >Time (UTCG)</text>
<text x="476" y="808.4" font-family='"Liberation Sans", sans-serif' font-size="10.1" font-weight="bold" font-style="italic" text-anchor="middle" fill="#1e1e1e" >Civil Air Patrol Use Only</text>
<text transform="translate(10.8,895) rotate(-90)" font-family='"Liberation Sans", sans-serif' font-size="10.2" text-anchor="middle" fill="#333">FOM Value</text>
<line x1="3" y1="986.7" x2="931" y2="986.7" stroke="#cfcfcf" stroke-width="1.0" stroke-dasharray="2.2 3.2"/>
<line x1="932.3" y1="875" x2="932.3" y2="884" stroke="#bbbbbb" stroke-width="1.0" />
<rect x="30" y="1094.8" width="891.8" height="28.7" fill="#f7f7f8"/>
<rect x="30" y="1152.2" width="891.8" height="28.7" fill="#f7f7f8"/>
<line x1="1.7" y1="1068.5" x2="1.7" y2="1209" stroke="#d8d8d8" stroke-width="1.2" />
<polyline points="38.5,1152.2 58.5,1152.2 59.1,1180.9 64,1180.9 64.6,1152.2 121.7,1152.2 122.3,1180.9 124.1,1180.9 124.7,1152.2 125.9,1152.2 126.5,1180.9 127.7,1180.9 128.3,1152.2 185.4,1152.2 186,1123.5 186.6,1152.2 192.7,1152.2 193.3,1123.5 196.9,1123.5 197.5,1152.2 201.2,1152.2 201.8,1123.5 215.7,1123.5 216.4,1152.2 248.5,1152.2 249.1,1180.9 250.3,1180.9 250.9,1152.2 255.8,1152.2 256.4,1180.9 258.8,1180.9 259.4,1152.2 288,1152.2 288.6,1123.5 291,1123.5 291.6,1152.2 292.2,1152.2 292.8,1123.5 296.5,1123.5 297.1,1152.2 302.5,1152.2 303.2,1123.5 312.3,1123.5 312.9,1094.8 313.5,1094.8 314.1,1123.5 314.7,1123.5 315.3,1094.8 315.9,1094.8 316.5,1123.5 317.7,1123.5 318.3,1094.8 318.9,1094.8 319.5,1123.5 320.1,1094.8 320.8,1094.8 321.4,1123.5 322.6,1123.5 323.2,1094.8 323.8,1094.8 324.4,1123.5 325.6,1123.5 326.2,1094.8 326.8,1094.8 327.4,1123.5 328,1094.8 329.9,1094.8 330.5,1123.5 331.1,1094.8 332.9,1094.8 333.5,1123.5 334.1,1094.8 334.7,1094.8 335.3,1123.5 335.9,1094.8 337.8,1094.8 338.4,1123.5 339.6,1123.5 340.2,1094.8 341.4,1094.8 342,1123.5 359.6,1123.5 360.2,1152.2 394.2,1152.2 394.8,1123.5 405.7,1123.5 406.3,1152.2 411.8,1152.2 412.4,1123.5 413,1152.2 422.1,1152.2 422.7,1123.5 423.3,1152.2 429.4,1152.2 430,1123.5 430.6,1152.2 464.6,1152.2 465.2,1123.5 467,1123.5 467.6,1152.2 495.6,1152.2 496.2,1123.5 502.2,1123.5 502.9,1152.2 506.5,1152.2 507.1,1123.5 526.5,1123.5 527.1,1152.2 530.8,1152.2 531.4,1123.5 544.1,1123.5 544.7,1152.2 551.4,1152.2 552,1180.9 553.2,1180.9 553.8,1152.2 554.4,1180.9 571.4,1180.9 572.1,1152.2 575.7,1152.2 576.3,1123.5 583,1123.5 583.6,1152.2 588.4,1152.2 589,1123.5 592.1,1123.5 592.7,1152.2 636.4,1152.2 637,1123.5 637.6,1152.2 668.6,1152.2 669.2,1180.9 669.8,1152.2 675.9,1152.2 676.5,1123.5 678.3,1123.5 678.9,1152.2 679.5,1152.2 680.1,1123.5 681.9,1123.5 682.5,1152.2 690.4,1152.2 691,1123.5 691.6,1152.2 708,1152.2 708.6,1180.9 709.2,1152.2 768.7,1152.2 769.3,1180.9 769.9,1152.2 772.4,1152.2 773,1180.9 790.6,1180.9 791.2,1152.2 811.2,1152.2 811.8,1180.9 812.4,1152.2 816.7,1152.2 817.3,1180.9 822.7,1180.9 823.4,1152.2 851.9,1152.2 852.5,1123.5 854.9,1123.5 855.5,1152.2 894.4,1152.2 895,1123.5 896.2,1123.5 896.8,1152.2 912.6,1152.2" fill="none" stroke="#66e5ea" stroke-width="1.9" stroke-linejoin="miter" stroke-miterlimit="2" />
<rect x="30" y="1083" width="891.8" height="100.3" fill="none" stroke="#707070" stroke-width="1.3"/>
<line x1="30" y1="1082.5" x2="30" y2="1183.8" stroke="#606060" stroke-width="1.7" />
<line x1="26" y1="1183.3" x2="921.8" y2="1183.3" stroke="#606060" stroke-width="1.7" />
<line x1="26.5" y1="1180.9" x2="34" y2="1180.9" stroke="#606060" stroke-width="1.1" />
<text x="24.5" y="1183.4" font-family='"Liberation Sans", sans-serif' font-size="7.2" font-weight="normal" font-style="normal" text-anchor="end" fill="#2e2e2e" >6</text>
<line x1="26.5" y1="1152.2" x2="34" y2="1152.2" stroke="#606060" stroke-width="1.1" />
<text x="24.5" y="1154.7" font-family='"Liberation Sans", sans-serif' font-size="7.2" font-weight="normal" font-style="normal" text-anchor="end" fill="#2e2e2e" >7</text>
<line x1="26.5" y1="1123.5" x2="34" y2="1123.5" stroke="#606060" stroke-width="1.1" />
<text x="24.5" y="1126" font-family='"Liberation Sans", sans-serif' font-size="7.2" font-weight="normal" font-style="normal" text-anchor="end" fill="#2e2e2e" >8</text>
<line x1="26.5" y1="1094.8" x2="34" y2="1094.8" stroke="#606060" stroke-width="1.1" />
<text x="24.5" y="1097.3" font-family='"Liberation Sans", sans-serif' font-size="7.2" font-weight="normal" font-style="normal" text-anchor="end" fill="#2e2e2e" >9</text>
<line x1="30" y1="1175.2" x2="34" y2="1175.2" stroke="#606060" stroke-width="1.1" />
<line x1="30" y1="1169.4" x2="34" y2="1169.4" stroke="#606060" stroke-width="1.1" />
<line x1="30" y1="1163.7" x2="34" y2="1163.7" stroke="#606060" stroke-width="1.1" />
<line x1="30" y1="1157.9" x2="34" y2="1157.9" stroke="#606060" stroke-width="1.1" />
<line x1="30" y1="1146.5" x2="34" y2="1146.5" stroke="#606060" stroke-width="1.1" />
<line x1="30" y1="1140.7" x2="34" y2="1140.7" stroke="#606060" stroke-width="1.1" />
<line x1="30" y1="1135" x2="34" y2="1135" stroke="#606060" stroke-width="1.1" />
<line x1="30" y1="1129.2" x2="34" y2="1129.2" stroke="#606060" stroke-width="1.1" />
<line x1="30" y1="1117.8" x2="34" y2="1117.8" stroke="#606060" stroke-width="1.1" />
<line x1="30" y1="1112" x2="34" y2="1112" stroke="#606060" stroke-width="1.1" />
<line x1="30" y1="1106.3" x2="34" y2="1106.3" stroke="#606060" stroke-width="1.1" />
<line x1="30" y1="1100.5" x2="34" y2="1100.5" stroke="#606060" stroke-width="1.1" />
<line x1="30" y1="1089.1" x2="34" y2="1089.1" stroke="#606060" stroke-width="1.1" />
<line x1="30" y1="1083.3" x2="34" y2="1083.3" stroke="#606060" stroke-width="1.1" />
<line x1="38.5" y1="1179.8" x2="38.5" y2="1187.3" stroke="#606060" stroke-width="1.1" />
<text x="38.5" y="1194.8" font-family='"Liberation Sans", sans-serif' font-size="7.2" font-weight="normal" font-style="normal" text-anchor="middle" fill="#2e2e2e" >Sun 5</text>
<line x1="74.9" y1="1179.8" x2="74.9" y2="1183.3" stroke="#606060" stroke-width="1.0" />
<line x1="111.3" y1="1179.8" x2="111.3" y2="1183.3" stroke="#606060" stroke-width="1.0" />
<line x1="147.7" y1="1179.8" x2="147.7" y2="1187.3" stroke="#606060" stroke-width="1.1" />
<text x="147.7" y="1194.8" font-family='"Liberation Sans", sans-serif' font-size="7.2" font-weight="normal" font-style="normal" text-anchor="middle" fill="#2e2e2e" >3:00</text>
<line x1="184.2" y1="1179.8" x2="184.2" y2="1183.3" stroke="#606060" stroke-width="1.0" />
<line x1="220.6" y1="1179.8" x2="220.6" y2="1183.3" stroke="#606060" stroke-width="1.0" />
<line x1="257" y1="1179.8" x2="257" y2="1187.3" stroke="#606060" stroke-width="1.1" />
<text x="257" y="1194.8" font-family='"Liberation Sans", sans-serif' font-size="7.2" font-weight="normal" font-style="normal" text-anchor="middle" fill="#2e2e2e" >6:00</text>
<line x1="293.4" y1="1179.8" x2="293.4" y2="1183.3" stroke="#606060" stroke-width="1.0" />
<line x1="329.8" y1="1179.8" x2="329.8" y2="1183.3" stroke="#606060" stroke-width="1.0" />
<line x1="366.2" y1="1179.8" x2="366.2" y2="1187.3" stroke="#606060" stroke-width="1.1" />
<text x="366.2" y="1194.8" font-family='"Liberation Sans", sans-serif' font-size="7.2" font-weight="normal" font-style="normal" text-anchor="middle" fill="#2e2e2e" >9:00</text>
<line x1="402.6" y1="1179.8" x2="402.6" y2="1183.3" stroke="#606060" stroke-width="1.0" />
<line x1="439" y1="1179.8" x2="439" y2="1183.3" stroke="#606060" stroke-width="1.0" />
<line x1="475.5" y1="1179.8" x2="475.5" y2="1187.3" stroke="#606060" stroke-width="1.1" />
<text x="475.5" y="1194.8" font-family='"Liberation Sans", sans-serif' font-size="7.2" font-weight="normal" font-style="normal" text-anchor="middle" fill="#2e2e2e" >12:00</text>
<line x1="511.9" y1="1179.8" x2="511.9" y2="1183.3" stroke="#606060" stroke-width="1.0" />
<line x1="548.3" y1="1179.8" x2="548.3" y2="1183.3" stroke="#606060" stroke-width="1.0" />
<line x1="584.7" y1="1179.8" x2="584.7" y2="1187.3" stroke="#606060" stroke-width="1.1" />
<text x="584.7" y="1194.8" font-family='"Liberation Sans", sans-serif' font-size="7.2" font-weight="normal" font-style="normal" text-anchor="middle" fill="#2e2e2e" >15:00</text>
<line x1="621.1" y1="1179.8" x2="621.1" y2="1183.3" stroke="#606060" stroke-width="1.0" />
<line x1="657.5" y1="1179.8" x2="657.5" y2="1183.3" stroke="#606060" stroke-width="1.0" />
<line x1="693.9" y1="1179.8" x2="693.9" y2="1187.3" stroke="#606060" stroke-width="1.1" />
<text x="693.9" y="1194.8" font-family='"Liberation Sans", sans-serif' font-size="7.2" font-weight="normal" font-style="normal" text-anchor="middle" fill="#2e2e2e" >18:00</text>
<line x1="730.3" y1="1179.8" x2="730.3" y2="1183.3" stroke="#606060" stroke-width="1.0" />
<line x1="766.8" y1="1179.8" x2="766.8" y2="1183.3" stroke="#606060" stroke-width="1.0" />
<line x1="803.2" y1="1179.8" x2="803.2" y2="1187.3" stroke="#606060" stroke-width="1.1" />
<text x="803.2" y="1194.8" font-family='"Liberation Sans", sans-serif' font-size="7.2" font-weight="normal" font-style="normal" text-anchor="middle" fill="#2e2e2e" >21:00</text>
<line x1="839.6" y1="1179.8" x2="839.6" y2="1183.3" stroke="#606060" stroke-width="1.0" />
<line x1="876" y1="1179.8" x2="876" y2="1183.3" stroke="#606060" stroke-width="1.0" />
<line x1="912.4" y1="1179.8" x2="912.4" y2="1187.3" stroke="#606060" stroke-width="1.1" />
<text x="912.4" y="1194.8" font-family='"Liberation Sans", sans-serif' font-size="7.2" font-weight="normal" font-style="normal" text-anchor="middle" fill="#2e2e2e" >Mon 6</text>
<text x="29.4" y="1203.6" font-family='"Liberation Sans", sans-serif' font-size="7.2" font-weight="normal" font-style="normal" text-anchor="middle" fill="#2e2e2e" >25 Jan</text>
<text x="475" y="1206.7" font-family='"Liberation Sans", sans-serif' font-size="10" font-weight="normal" font-style="normal" text-anchor="middle" fill="#333" >Time (UTCG)</text>
<text x="476" y="1077.4" font-family='"Liberation Sans", sans-serif' font-size="10.1" font-weight="bold" font-style="italic" text-anchor="middle" fill="#1e1e1e" >Civil Air Patrol Use Only</text>
<text transform="translate(15.2,1144) rotate(-90)" font-family='"Liberation Sans", sans-serif' font-size="10.2" text-anchor="middle" fill="#333">FOM Value</text>
<circle cx="26" cy="215" r="0.8" fill="#777"/>
<circle cx="922.5" cy="215" r="0.8" fill="#777"/>
<circle cx="523.3" cy="290.4" r="0.8" fill="#777"/>
<circle cx="920.7" cy="709.2" r="0.8" fill="#777"/>
<circle cx="921.8" cy="1068.3" r="0.8" fill="#777"/>
<line x1="20" y1="709.3" x2="23" y2="709.3" stroke="#aaa" stroke-width="0.8" />
<line x1="25" y1="709.3" x2="27" y2="709.3" stroke="#aaa" stroke-width="0.8" />
<line x1="30" y1="708.6" x2="30" y2="710" stroke="#999" stroke-width="0.8" />
</svg>
</body></html>
